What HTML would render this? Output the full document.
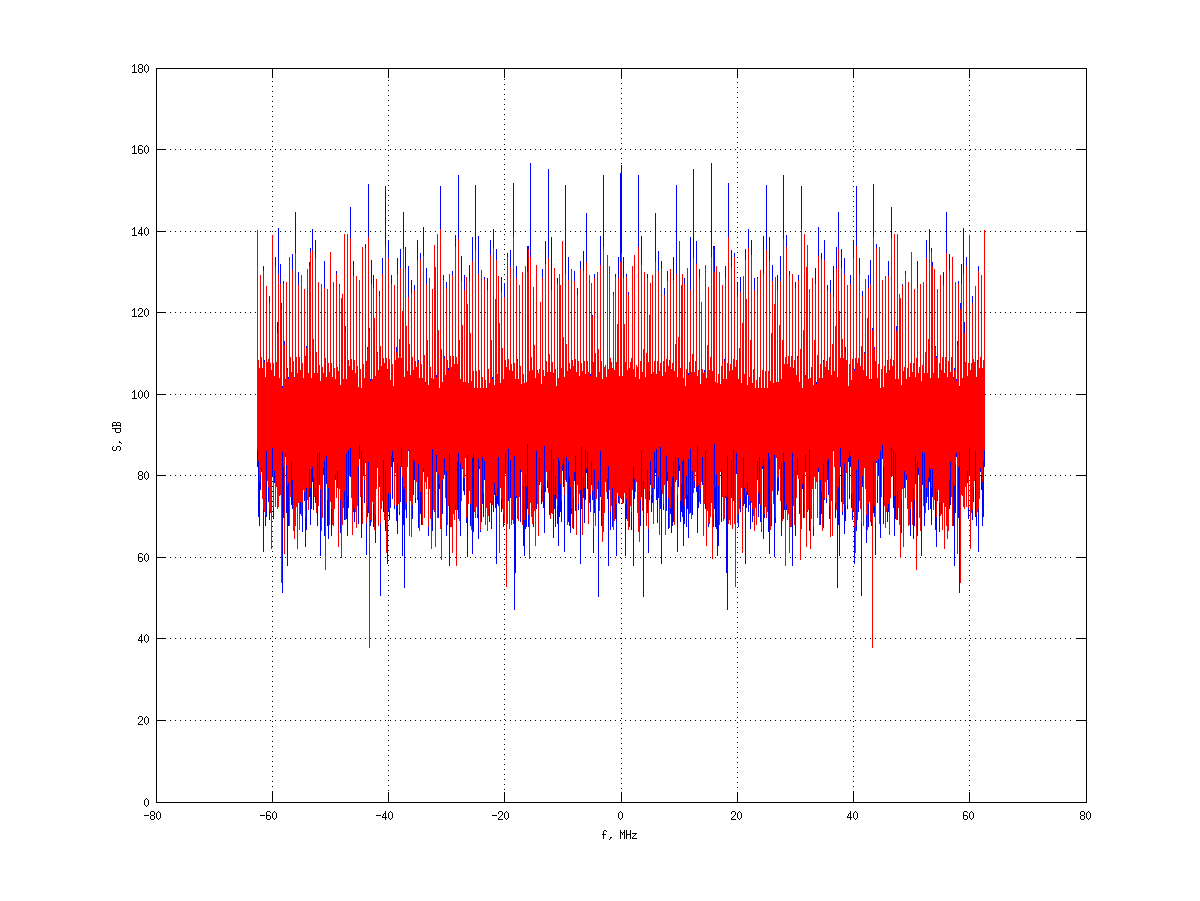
<!DOCTYPE html><html><head><meta charset="utf-8"><style>html,body{margin:0;padding:0;background:#fff;width:1200px;height:901px;overflow:hidden}</style></head><body><svg width="1200" height="901" viewBox="0 0 1200 901" shape-rendering="crispEdges" style="display:block"><rect width="1200" height="901" fill="#fff"/><path fill="#000" d="M170 720h1v1h-1zM175 720h1v1h-1zM180 720h1v1h-1zM185 720h1v1h-1zM190 720h1v1h-1zM195 720h1v1h-1zM200 720h1v1h-1zM205 720h1v1h-1zM210 720h1v1h-1zM215 720h1v1h-1zM220 720h1v1h-1zM225 720h1v1h-1zM230 720h1v1h-1zM235 720h1v1h-1zM240 720h1v1h-1zM245 720h1v1h-1zM250 720h1v1h-1zM255 720h1v1h-1zM260 720h1v1h-1zM265 720h1v1h-1zM270 720h1v1h-1zM275 720h1v1h-1zM280 720h1v1h-1zM285 720h1v1h-1zM290 720h1v1h-1zM295 720h1v1h-1zM300 720h1v1h-1zM305 720h1v1h-1zM310 720h1v1h-1zM315 720h1v1h-1zM320 720h1v1h-1zM325 720h1v1h-1zM330 720h1v1h-1zM335 720h1v1h-1zM340 720h1v1h-1zM345 720h1v1h-1zM350 720h1v1h-1zM355 720h1v1h-1zM360 720h1v1h-1zM365 720h1v1h-1zM370 720h1v1h-1zM375 720h1v1h-1zM380 720h1v1h-1zM385 720h1v1h-1zM390 720h1v1h-1zM395 720h1v1h-1zM400 720h1v1h-1zM405 720h1v1h-1zM410 720h1v1h-1zM415 720h1v1h-1zM420 720h1v1h-1zM425 720h1v1h-1zM430 720h1v1h-1zM435 720h1v1h-1zM440 720h1v1h-1zM445 720h1v1h-1zM450 720h1v1h-1zM455 720h1v1h-1zM460 720h1v1h-1zM465 720h1v1h-1zM470 720h1v1h-1zM475 720h1v1h-1zM480 720h1v1h-1zM485 720h1v1h-1zM490 720h1v1h-1zM495 720h1v1h-1zM500 720h1v1h-1zM505 720h1v1h-1zM510 720h1v1h-1zM515 720h1v1h-1zM520 720h1v1h-1zM525 720h1v1h-1zM530 720h1v1h-1zM535 720h1v1h-1zM540 720h1v1h-1zM545 720h1v1h-1zM550 720h1v1h-1zM555 720h1v1h-1zM560 720h1v1h-1zM565 720h1v1h-1zM570 720h1v1h-1zM575 720h1v1h-1zM580 720h1v1h-1zM585 720h1v1h-1zM590 720h1v1h-1zM595 720h1v1h-1zM600 720h1v1h-1zM605 720h1v1h-1zM610 720h1v1h-1zM615 720h1v1h-1zM620 720h1v1h-1zM625 720h1v1h-1zM630 720h1v1h-1zM635 720h1v1h-1zM640 720h1v1h-1zM645 720h1v1h-1zM650 720h1v1h-1zM655 720h1v1h-1zM660 720h1v1h-1zM665 720h1v1h-1zM670 720h1v1h-1zM675 720h1v1h-1zM680 720h1v1h-1zM685 720h1v1h-1zM690 720h1v1h-1zM695 720h1v1h-1zM700 720h1v1h-1zM705 720h1v1h-1zM710 720h1v1h-1zM715 720h1v1h-1zM720 720h1v1h-1zM725 720h1v1h-1zM730 720h1v1h-1zM735 720h1v1h-1zM740 720h1v1h-1zM745 720h1v1h-1zM750 720h1v1h-1zM755 720h1v1h-1zM760 720h1v1h-1zM765 720h1v1h-1zM770 720h1v1h-1zM775 720h1v1h-1zM780 720h1v1h-1zM785 720h1v1h-1zM790 720h1v1h-1zM795 720h1v1h-1zM800 720h1v1h-1zM805 720h1v1h-1zM810 720h1v1h-1zM815 720h1v1h-1zM820 720h1v1h-1zM825 720h1v1h-1zM830 720h1v1h-1zM835 720h1v1h-1zM840 720h1v1h-1zM845 720h1v1h-1zM850 720h1v1h-1zM855 720h1v1h-1zM860 720h1v1h-1zM865 720h1v1h-1zM870 720h1v1h-1zM875 720h1v1h-1zM880 720h1v1h-1zM885 720h1v1h-1zM890 720h1v1h-1zM895 720h1v1h-1zM900 720h1v1h-1zM905 720h1v1h-1zM910 720h1v1h-1zM915 720h1v1h-1zM920 720h1v1h-1zM925 720h1v1h-1zM930 720h1v1h-1zM935 720h1v1h-1zM940 720h1v1h-1zM945 720h1v1h-1zM950 720h1v1h-1zM955 720h1v1h-1zM960 720h1v1h-1zM965 720h1v1h-1zM970 720h1v1h-1zM975 720h1v1h-1zM980 720h1v1h-1zM985 720h1v1h-1zM990 720h1v1h-1zM995 720h1v1h-1zM1000 720h1v1h-1zM1005 720h1v1h-1zM1010 720h1v1h-1zM1015 720h1v1h-1zM1020 720h1v1h-1zM1025 720h1v1h-1zM1030 720h1v1h-1zM1035 720h1v1h-1zM1040 720h1v1h-1zM1045 720h1v1h-1zM1050 720h1v1h-1zM1055 720h1v1h-1zM1060 720h1v1h-1zM1065 720h1v1h-1zM1070 720h1v1h-1zM170 638h1v1h-1zM175 638h1v1h-1zM180 638h1v1h-1zM185 638h1v1h-1zM190 638h1v1h-1zM195 638h1v1h-1zM200 638h1v1h-1zM205 638h1v1h-1zM210 638h1v1h-1zM215 638h1v1h-1zM220 638h1v1h-1zM225 638h1v1h-1zM230 638h1v1h-1zM235 638h1v1h-1zM240 638h1v1h-1zM245 638h1v1h-1zM250 638h1v1h-1zM255 638h1v1h-1zM260 638h1v1h-1zM265 638h1v1h-1zM270 638h1v1h-1zM275 638h1v1h-1zM280 638h1v1h-1zM285 638h1v1h-1zM290 638h1v1h-1zM295 638h1v1h-1zM300 638h1v1h-1zM305 638h1v1h-1zM310 638h1v1h-1zM315 638h1v1h-1zM320 638h1v1h-1zM325 638h1v1h-1zM330 638h1v1h-1zM335 638h1v1h-1zM340 638h1v1h-1zM345 638h1v1h-1zM350 638h1v1h-1zM355 638h1v1h-1zM360 638h1v1h-1zM365 638h1v1h-1zM370 638h1v1h-1zM375 638h1v1h-1zM380 638h1v1h-1zM385 638h1v1h-1zM390 638h1v1h-1zM395 638h1v1h-1zM400 638h1v1h-1zM405 638h1v1h-1zM410 638h1v1h-1zM415 638h1v1h-1zM420 638h1v1h-1zM425 638h1v1h-1zM430 638h1v1h-1zM435 638h1v1h-1zM440 638h1v1h-1zM445 638h1v1h-1zM450 638h1v1h-1zM455 638h1v1h-1zM460 638h1v1h-1zM465 638h1v1h-1zM470 638h1v1h-1zM475 638h1v1h-1zM480 638h1v1h-1zM485 638h1v1h-1zM490 638h1v1h-1zM495 638h1v1h-1zM500 638h1v1h-1zM505 638h1v1h-1zM510 638h1v1h-1zM515 638h1v1h-1zM520 638h1v1h-1zM525 638h1v1h-1zM530 638h1v1h-1zM535 638h1v1h-1zM540 638h1v1h-1zM545 638h1v1h-1zM550 638h1v1h-1zM555 638h1v1h-1zM560 638h1v1h-1zM565 638h1v1h-1zM570 638h1v1h-1zM575 638h1v1h-1zM580 638h1v1h-1zM585 638h1v1h-1zM590 638h1v1h-1zM595 638h1v1h-1zM600 638h1v1h-1zM605 638h1v1h-1zM610 638h1v1h-1zM615 638h1v1h-1zM620 638h1v1h-1zM625 638h1v1h-1zM630 638h1v1h-1zM635 638h1v1h-1zM640 638h1v1h-1zM645 638h1v1h-1zM650 638h1v1h-1zM655 638h1v1h-1zM660 638h1v1h-1zM665 638h1v1h-1zM670 638h1v1h-1zM675 638h1v1h-1zM680 638h1v1h-1zM685 638h1v1h-1zM690 638h1v1h-1zM695 638h1v1h-1zM700 638h1v1h-1zM705 638h1v1h-1zM710 638h1v1h-1zM715 638h1v1h-1zM720 638h1v1h-1zM725 638h1v1h-1zM730 638h1v1h-1zM735 638h1v1h-1zM740 638h1v1h-1zM745 638h1v1h-1zM750 638h1v1h-1zM755 638h1v1h-1zM760 638h1v1h-1zM765 638h1v1h-1zM770 638h1v1h-1zM775 638h1v1h-1zM780 638h1v1h-1zM785 638h1v1h-1zM790 638h1v1h-1zM795 638h1v1h-1zM800 638h1v1h-1zM805 638h1v1h-1zM810 638h1v1h-1zM815 638h1v1h-1zM820 638h1v1h-1zM825 638h1v1h-1zM830 638h1v1h-1zM835 638h1v1h-1zM840 638h1v1h-1zM845 638h1v1h-1zM850 638h1v1h-1zM855 638h1v1h-1zM860 638h1v1h-1zM865 638h1v1h-1zM870 638h1v1h-1zM875 638h1v1h-1zM880 638h1v1h-1zM885 638h1v1h-1zM890 638h1v1h-1zM895 638h1v1h-1zM900 638h1v1h-1zM905 638h1v1h-1zM910 638h1v1h-1zM915 638h1v1h-1zM920 638h1v1h-1zM925 638h1v1h-1zM930 638h1v1h-1zM935 638h1v1h-1zM940 638h1v1h-1zM945 638h1v1h-1zM950 638h1v1h-1zM955 638h1v1h-1zM960 638h1v1h-1zM965 638h1v1h-1zM970 638h1v1h-1zM975 638h1v1h-1zM980 638h1v1h-1zM985 638h1v1h-1zM990 638h1v1h-1zM995 638h1v1h-1zM1000 638h1v1h-1zM1005 638h1v1h-1zM1010 638h1v1h-1zM1015 638h1v1h-1zM1020 638h1v1h-1zM1025 638h1v1h-1zM1030 638h1v1h-1zM1035 638h1v1h-1zM1040 638h1v1h-1zM1045 638h1v1h-1zM1050 638h1v1h-1zM1055 638h1v1h-1zM1060 638h1v1h-1zM1065 638h1v1h-1zM1070 638h1v1h-1zM170 557h1v1h-1zM175 557h1v1h-1zM180 557h1v1h-1zM185 557h1v1h-1zM190 557h1v1h-1zM195 557h1v1h-1zM200 557h1v1h-1zM205 557h1v1h-1zM210 557h1v1h-1zM215 557h1v1h-1zM220 557h1v1h-1zM225 557h1v1h-1zM230 557h1v1h-1zM235 557h1v1h-1zM240 557h1v1h-1zM245 557h1v1h-1zM250 557h1v1h-1zM255 557h1v1h-1zM260 557h1v1h-1zM265 557h1v1h-1zM270 557h1v1h-1zM275 557h1v1h-1zM280 557h1v1h-1zM285 557h1v1h-1zM290 557h1v1h-1zM295 557h1v1h-1zM300 557h1v1h-1zM305 557h1v1h-1zM310 557h1v1h-1zM315 557h1v1h-1zM320 557h1v1h-1zM325 557h1v1h-1zM330 557h1v1h-1zM335 557h1v1h-1zM340 557h1v1h-1zM345 557h1v1h-1zM350 557h1v1h-1zM355 557h1v1h-1zM360 557h1v1h-1zM365 557h1v1h-1zM370 557h1v1h-1zM375 557h1v1h-1zM380 557h1v1h-1zM385 557h1v1h-1zM390 557h1v1h-1zM395 557h1v1h-1zM400 557h1v1h-1zM405 557h1v1h-1zM410 557h1v1h-1zM415 557h1v1h-1zM420 557h1v1h-1zM425 557h1v1h-1zM430 557h1v1h-1zM435 557h1v1h-1zM440 557h1v1h-1zM445 557h1v1h-1zM450 557h1v1h-1zM455 557h1v1h-1zM460 557h1v1h-1zM465 557h1v1h-1zM470 557h1v1h-1zM475 557h1v1h-1zM480 557h1v1h-1zM485 557h1v1h-1zM490 557h1v1h-1zM495 557h1v1h-1zM500 557h1v1h-1zM505 557h1v1h-1zM510 557h1v1h-1zM515 557h1v1h-1zM520 557h1v1h-1zM525 557h1v1h-1zM530 557h1v1h-1zM535 557h1v1h-1zM540 557h1v1h-1zM545 557h1v1h-1zM550 557h1v1h-1zM555 557h1v1h-1zM560 557h1v1h-1zM565 557h1v1h-1zM570 557h1v1h-1zM575 557h1v1h-1zM580 557h1v1h-1zM585 557h1v1h-1zM590 557h1v1h-1zM595 557h1v1h-1zM600 557h1v1h-1zM605 557h1v1h-1zM610 557h1v1h-1zM615 557h1v1h-1zM620 557h1v1h-1zM625 557h1v1h-1zM630 557h1v1h-1zM635 557h1v1h-1zM640 557h1v1h-1zM645 557h1v1h-1zM650 557h1v1h-1zM655 557h1v1h-1zM660 557h1v1h-1zM665 557h1v1h-1zM670 557h1v1h-1zM675 557h1v1h-1zM680 557h1v1h-1zM685 557h1v1h-1zM690 557h1v1h-1zM695 557h1v1h-1zM700 557h1v1h-1zM705 557h1v1h-1zM710 557h1v1h-1zM715 557h1v1h-1zM720 557h1v1h-1zM725 557h1v1h-1zM730 557h1v1h-1zM735 557h1v1h-1zM740 557h1v1h-1zM745 557h1v1h-1zM750 557h1v1h-1zM755 557h1v1h-1zM760 557h1v1h-1zM765 557h1v1h-1zM770 557h1v1h-1zM775 557h1v1h-1zM780 557h1v1h-1zM785 557h1v1h-1zM790 557h1v1h-1zM795 557h1v1h-1zM800 557h1v1h-1zM805 557h1v1h-1zM810 557h1v1h-1zM815 557h1v1h-1zM820 557h1v1h-1zM825 557h1v1h-1zM830 557h1v1h-1zM835 557h1v1h-1zM840 557h1v1h-1zM845 557h1v1h-1zM850 557h1v1h-1zM855 557h1v1h-1zM860 557h1v1h-1zM865 557h1v1h-1zM870 557h1v1h-1zM875 557h1v1h-1zM880 557h1v1h-1zM885 557h1v1h-1zM890 557h1v1h-1zM895 557h1v1h-1zM900 557h1v1h-1zM905 557h1v1h-1zM910 557h1v1h-1zM915 557h1v1h-1zM920 557h1v1h-1zM925 557h1v1h-1zM930 557h1v1h-1zM935 557h1v1h-1zM940 557h1v1h-1zM945 557h1v1h-1zM950 557h1v1h-1zM955 557h1v1h-1zM960 557h1v1h-1zM965 557h1v1h-1zM970 557h1v1h-1zM975 557h1v1h-1zM980 557h1v1h-1zM985 557h1v1h-1zM990 557h1v1h-1zM995 557h1v1h-1zM1000 557h1v1h-1zM1005 557h1v1h-1zM1010 557h1v1h-1zM1015 557h1v1h-1zM1020 557h1v1h-1zM1025 557h1v1h-1zM1030 557h1v1h-1zM1035 557h1v1h-1zM1040 557h1v1h-1zM1045 557h1v1h-1zM1050 557h1v1h-1zM1055 557h1v1h-1zM1060 557h1v1h-1zM1065 557h1v1h-1zM1070 557h1v1h-1zM170 475h1v1h-1zM175 475h1v1h-1zM180 475h1v1h-1zM185 475h1v1h-1zM190 475h1v1h-1zM195 475h1v1h-1zM200 475h1v1h-1zM205 475h1v1h-1zM210 475h1v1h-1zM215 475h1v1h-1zM220 475h1v1h-1zM225 475h1v1h-1zM230 475h1v1h-1zM235 475h1v1h-1zM240 475h1v1h-1zM245 475h1v1h-1zM250 475h1v1h-1zM255 475h1v1h-1zM260 475h1v1h-1zM265 475h1v1h-1zM270 475h1v1h-1zM275 475h1v1h-1zM280 475h1v1h-1zM285 475h1v1h-1zM290 475h1v1h-1zM295 475h1v1h-1zM300 475h1v1h-1zM305 475h1v1h-1zM310 475h1v1h-1zM315 475h1v1h-1zM320 475h1v1h-1zM325 475h1v1h-1zM330 475h1v1h-1zM335 475h1v1h-1zM340 475h1v1h-1zM345 475h1v1h-1zM350 475h1v1h-1zM355 475h1v1h-1zM360 475h1v1h-1zM365 475h1v1h-1zM370 475h1v1h-1zM375 475h1v1h-1zM380 475h1v1h-1zM385 475h1v1h-1zM390 475h1v1h-1zM395 475h1v1h-1zM400 475h1v1h-1zM405 475h1v1h-1zM410 475h1v1h-1zM415 475h1v1h-1zM420 475h1v1h-1zM425 475h1v1h-1zM430 475h1v1h-1zM435 475h1v1h-1zM440 475h1v1h-1zM445 475h1v1h-1zM450 475h1v1h-1zM455 475h1v1h-1zM460 475h1v1h-1zM465 475h1v1h-1zM470 475h1v1h-1zM475 475h1v1h-1zM480 475h1v1h-1zM485 475h1v1h-1zM490 475h1v1h-1zM495 475h1v1h-1zM500 475h1v1h-1zM505 475h1v1h-1zM510 475h1v1h-1zM515 475h1v1h-1zM520 475h1v1h-1zM525 475h1v1h-1zM530 475h1v1h-1zM535 475h1v1h-1zM540 475h1v1h-1zM545 475h1v1h-1zM550 475h1v1h-1zM555 475h1v1h-1zM560 475h1v1h-1zM565 475h1v1h-1zM570 475h1v1h-1zM575 475h1v1h-1zM580 475h1v1h-1zM585 475h1v1h-1zM590 475h1v1h-1zM595 475h1v1h-1zM600 475h1v1h-1zM605 475h1v1h-1zM610 475h1v1h-1zM615 475h1v1h-1zM620 475h1v1h-1zM625 475h1v1h-1zM630 475h1v1h-1zM635 475h1v1h-1zM640 475h1v1h-1zM645 475h1v1h-1zM650 475h1v1h-1zM655 475h1v1h-1zM660 475h1v1h-1zM665 475h1v1h-1zM670 475h1v1h-1zM675 475h1v1h-1zM680 475h1v1h-1zM685 475h1v1h-1zM690 475h1v1h-1zM695 475h1v1h-1zM700 475h1v1h-1zM705 475h1v1h-1zM710 475h1v1h-1zM715 475h1v1h-1zM720 475h1v1h-1zM725 475h1v1h-1zM730 475h1v1h-1zM735 475h1v1h-1zM740 475h1v1h-1zM745 475h1v1h-1zM750 475h1v1h-1zM755 475h1v1h-1zM760 475h1v1h-1zM765 475h1v1h-1zM770 475h1v1h-1zM775 475h1v1h-1zM780 475h1v1h-1zM785 475h1v1h-1zM790 475h1v1h-1zM795 475h1v1h-1zM800 475h1v1h-1zM805 475h1v1h-1zM810 475h1v1h-1zM815 475h1v1h-1zM820 475h1v1h-1zM825 475h1v1h-1zM830 475h1v1h-1zM835 475h1v1h-1zM840 475h1v1h-1zM845 475h1v1h-1zM850 475h1v1h-1zM855 475h1v1h-1zM860 475h1v1h-1zM865 475h1v1h-1zM870 475h1v1h-1zM875 475h1v1h-1zM880 475h1v1h-1zM885 475h1v1h-1zM890 475h1v1h-1zM895 475h1v1h-1zM900 475h1v1h-1zM905 475h1v1h-1zM910 475h1v1h-1zM915 475h1v1h-1zM920 475h1v1h-1zM925 475h1v1h-1zM930 475h1v1h-1zM935 475h1v1h-1zM940 475h1v1h-1zM945 475h1v1h-1zM950 475h1v1h-1zM955 475h1v1h-1zM960 475h1v1h-1zM965 475h1v1h-1zM970 475h1v1h-1zM975 475h1v1h-1zM980 475h1v1h-1zM985 475h1v1h-1zM990 475h1v1h-1zM995 475h1v1h-1zM1000 475h1v1h-1zM1005 475h1v1h-1zM1010 475h1v1h-1zM1015 475h1v1h-1zM1020 475h1v1h-1zM1025 475h1v1h-1zM1030 475h1v1h-1zM1035 475h1v1h-1zM1040 475h1v1h-1zM1045 475h1v1h-1zM1050 475h1v1h-1zM1055 475h1v1h-1zM1060 475h1v1h-1zM1065 475h1v1h-1zM1070 475h1v1h-1zM170 394h1v1h-1zM175 394h1v1h-1zM180 394h1v1h-1zM185 394h1v1h-1zM190 394h1v1h-1zM195 394h1v1h-1zM200 394h1v1h-1zM205 394h1v1h-1zM210 394h1v1h-1zM215 394h1v1h-1zM220 394h1v1h-1zM225 394h1v1h-1zM230 394h1v1h-1zM235 394h1v1h-1zM240 394h1v1h-1zM245 394h1v1h-1zM250 394h1v1h-1zM255 394h1v1h-1zM260 394h1v1h-1zM265 394h1v1h-1zM270 394h1v1h-1zM275 394h1v1h-1zM280 394h1v1h-1zM285 394h1v1h-1zM290 394h1v1h-1zM295 394h1v1h-1zM300 394h1v1h-1zM305 394h1v1h-1zM310 394h1v1h-1zM315 394h1v1h-1zM320 394h1v1h-1zM325 394h1v1h-1zM330 394h1v1h-1zM335 394h1v1h-1zM340 394h1v1h-1zM345 394h1v1h-1zM350 394h1v1h-1zM355 394h1v1h-1zM360 394h1v1h-1zM365 394h1v1h-1zM370 394h1v1h-1zM375 394h1v1h-1zM380 394h1v1h-1zM385 394h1v1h-1zM390 394h1v1h-1zM395 394h1v1h-1zM400 394h1v1h-1zM405 394h1v1h-1zM410 394h1v1h-1zM415 394h1v1h-1zM420 394h1v1h-1zM425 394h1v1h-1zM430 394h1v1h-1zM435 394h1v1h-1zM440 394h1v1h-1zM445 394h1v1h-1zM450 394h1v1h-1zM455 394h1v1h-1zM460 394h1v1h-1zM465 394h1v1h-1zM470 394h1v1h-1zM475 394h1v1h-1zM480 394h1v1h-1zM485 394h1v1h-1zM490 394h1v1h-1zM495 394h1v1h-1zM500 394h1v1h-1zM505 394h1v1h-1zM510 394h1v1h-1zM515 394h1v1h-1zM520 394h1v1h-1zM525 394h1v1h-1zM530 394h1v1h-1zM535 394h1v1h-1zM540 394h1v1h-1zM545 394h1v1h-1zM550 394h1v1h-1zM555 394h1v1h-1zM560 394h1v1h-1zM565 394h1v1h-1zM570 394h1v1h-1zM575 394h1v1h-1zM580 394h1v1h-1zM585 394h1v1h-1zM590 394h1v1h-1zM595 394h1v1h-1zM600 394h1v1h-1zM605 394h1v1h-1zM610 394h1v1h-1zM615 394h1v1h-1zM620 394h1v1h-1zM625 394h1v1h-1zM630 394h1v1h-1zM635 394h1v1h-1zM640 394h1v1h-1zM645 394h1v1h-1zM650 394h1v1h-1zM655 394h1v1h-1zM660 394h1v1h-1zM665 394h1v1h-1zM670 394h1v1h-1zM675 394h1v1h-1zM680 394h1v1h-1zM685 394h1v1h-1zM690 394h1v1h-1zM695 394h1v1h-1zM700 394h1v1h-1zM705 394h1v1h-1zM710 394h1v1h-1zM715 394h1v1h-1zM720 394h1v1h-1zM725 394h1v1h-1zM730 394h1v1h-1zM735 394h1v1h-1zM740 394h1v1h-1zM745 394h1v1h-1zM750 394h1v1h-1zM755 394h1v1h-1zM760 394h1v1h-1zM765 394h1v1h-1zM770 394h1v1h-1zM775 394h1v1h-1zM780 394h1v1h-1zM785 394h1v1h-1zM790 394h1v1h-1zM795 394h1v1h-1zM800 394h1v1h-1zM805 394h1v1h-1zM810 394h1v1h-1zM815 394h1v1h-1zM820 394h1v1h-1zM825 394h1v1h-1zM830 394h1v1h-1zM835 394h1v1h-1zM840 394h1v1h-1zM845 394h1v1h-1zM850 394h1v1h-1zM855 394h1v1h-1zM860 394h1v1h-1zM865 394h1v1h-1zM870 394h1v1h-1zM875 394h1v1h-1zM880 394h1v1h-1zM885 394h1v1h-1zM890 394h1v1h-1zM895 394h1v1h-1zM900 394h1v1h-1zM905 394h1v1h-1zM910 394h1v1h-1zM915 394h1v1h-1zM920 394h1v1h-1zM925 394h1v1h-1zM930 394h1v1h-1zM935 394h1v1h-1zM940 394h1v1h-1zM945 394h1v1h-1zM950 394h1v1h-1zM955 394h1v1h-1zM960 394h1v1h-1zM965 394h1v1h-1zM970 394h1v1h-1zM975 394h1v1h-1zM980 394h1v1h-1zM985 394h1v1h-1zM990 394h1v1h-1zM995 394h1v1h-1zM1000 394h1v1h-1zM1005 394h1v1h-1zM1010 394h1v1h-1zM1015 394h1v1h-1zM1020 394h1v1h-1zM1025 394h1v1h-1zM1030 394h1v1h-1zM1035 394h1v1h-1zM1040 394h1v1h-1zM1045 394h1v1h-1zM1050 394h1v1h-1zM1055 394h1v1h-1zM1060 394h1v1h-1zM1065 394h1v1h-1zM1070 394h1v1h-1zM170 312h1v1h-1zM175 312h1v1h-1zM180 312h1v1h-1zM185 312h1v1h-1zM190 312h1v1h-1zM195 312h1v1h-1zM200 312h1v1h-1zM205 312h1v1h-1zM210 312h1v1h-1zM215 312h1v1h-1zM220 312h1v1h-1zM225 312h1v1h-1zM230 312h1v1h-1zM235 312h1v1h-1zM240 312h1v1h-1zM245 312h1v1h-1zM250 312h1v1h-1zM255 312h1v1h-1zM260 312h1v1h-1zM265 312h1v1h-1zM270 312h1v1h-1zM275 312h1v1h-1zM280 312h1v1h-1zM285 312h1v1h-1zM290 312h1v1h-1zM295 312h1v1h-1zM300 312h1v1h-1zM305 312h1v1h-1zM310 312h1v1h-1zM315 312h1v1h-1zM320 312h1v1h-1zM325 312h1v1h-1zM330 312h1v1h-1zM335 312h1v1h-1zM340 312h1v1h-1zM345 312h1v1h-1zM350 312h1v1h-1zM355 312h1v1h-1zM360 312h1v1h-1zM365 312h1v1h-1zM370 312h1v1h-1zM375 312h1v1h-1zM380 312h1v1h-1zM385 312h1v1h-1zM390 312h1v1h-1zM395 312h1v1h-1zM400 312h1v1h-1zM405 312h1v1h-1zM410 312h1v1h-1zM415 312h1v1h-1zM420 312h1v1h-1zM425 312h1v1h-1zM430 312h1v1h-1zM435 312h1v1h-1zM440 312h1v1h-1zM445 312h1v1h-1zM450 312h1v1h-1zM455 312h1v1h-1zM460 312h1v1h-1zM465 312h1v1h-1zM470 312h1v1h-1zM475 312h1v1h-1zM480 312h1v1h-1zM485 312h1v1h-1zM490 312h1v1h-1zM495 312h1v1h-1zM500 312h1v1h-1zM505 312h1v1h-1zM510 312h1v1h-1zM515 312h1v1h-1zM520 312h1v1h-1zM525 312h1v1h-1zM530 312h1v1h-1zM535 312h1v1h-1zM540 312h1v1h-1zM545 312h1v1h-1zM550 312h1v1h-1zM555 312h1v1h-1zM560 312h1v1h-1zM565 312h1v1h-1zM570 312h1v1h-1zM575 312h1v1h-1zM580 312h1v1h-1zM585 312h1v1h-1zM590 312h1v1h-1zM595 312h1v1h-1zM600 312h1v1h-1zM605 312h1v1h-1zM610 312h1v1h-1zM615 312h1v1h-1zM620 312h1v1h-1zM625 312h1v1h-1zM630 312h1v1h-1zM635 312h1v1h-1zM640 312h1v1h-1zM645 312h1v1h-1zM650 312h1v1h-1zM655 312h1v1h-1zM660 312h1v1h-1zM665 312h1v1h-1zM670 312h1v1h-1zM675 312h1v1h-1zM680 312h1v1h-1zM685 312h1v1h-1zM690 312h1v1h-1zM695 312h1v1h-1zM700 312h1v1h-1zM705 312h1v1h-1zM710 312h1v1h-1zM715 312h1v1h-1zM720 312h1v1h-1zM725 312h1v1h-1zM730 312h1v1h-1zM735 312h1v1h-1zM740 312h1v1h-1zM745 312h1v1h-1zM750 312h1v1h-1zM755 312h1v1h-1zM760 312h1v1h-1zM765 312h1v1h-1zM770 312h1v1h-1zM775 312h1v1h-1zM780 312h1v1h-1zM785 312h1v1h-1zM790 312h1v1h-1zM795 312h1v1h-1zM800 312h1v1h-1zM805 312h1v1h-1zM810 312h1v1h-1zM815 312h1v1h-1zM820 312h1v1h-1zM825 312h1v1h-1zM830 312h1v1h-1zM835 312h1v1h-1zM840 312h1v1h-1zM845 312h1v1h-1zM850 312h1v1h-1zM855 312h1v1h-1zM860 312h1v1h-1zM865 312h1v1h-1zM870 312h1v1h-1zM875 312h1v1h-1zM880 312h1v1h-1zM885 312h1v1h-1zM890 312h1v1h-1zM895 312h1v1h-1zM900 312h1v1h-1zM905 312h1v1h-1zM910 312h1v1h-1zM915 312h1v1h-1zM920 312h1v1h-1zM925 312h1v1h-1zM930 312h1v1h-1zM935 312h1v1h-1zM940 312h1v1h-1zM945 312h1v1h-1zM950 312h1v1h-1zM955 312h1v1h-1zM960 312h1v1h-1zM965 312h1v1h-1zM970 312h1v1h-1zM975 312h1v1h-1zM980 312h1v1h-1zM985 312h1v1h-1zM990 312h1v1h-1zM995 312h1v1h-1zM1000 312h1v1h-1zM1005 312h1v1h-1zM1010 312h1v1h-1zM1015 312h1v1h-1zM1020 312h1v1h-1zM1025 312h1v1h-1zM1030 312h1v1h-1zM1035 312h1v1h-1zM1040 312h1v1h-1zM1045 312h1v1h-1zM1050 312h1v1h-1zM1055 312h1v1h-1zM1060 312h1v1h-1zM1065 312h1v1h-1zM1070 312h1v1h-1zM170 231h1v1h-1zM175 231h1v1h-1zM180 231h1v1h-1zM185 231h1v1h-1zM190 231h1v1h-1zM195 231h1v1h-1zM200 231h1v1h-1zM205 231h1v1h-1zM210 231h1v1h-1zM215 231h1v1h-1zM220 231h1v1h-1zM225 231h1v1h-1zM230 231h1v1h-1zM235 231h1v1h-1zM240 231h1v1h-1zM245 231h1v1h-1zM250 231h1v1h-1zM255 231h1v1h-1zM260 231h1v1h-1zM265 231h1v1h-1zM270 231h1v1h-1zM275 231h1v1h-1zM280 231h1v1h-1zM285 231h1v1h-1zM290 231h1v1h-1zM295 231h1v1h-1zM300 231h1v1h-1zM305 231h1v1h-1zM310 231h1v1h-1zM315 231h1v1h-1zM320 231h1v1h-1zM325 231h1v1h-1zM330 231h1v1h-1zM335 231h1v1h-1zM340 231h1v1h-1zM345 231h1v1h-1zM350 231h1v1h-1zM355 231h1v1h-1zM360 231h1v1h-1zM365 231h1v1h-1zM370 231h1v1h-1zM375 231h1v1h-1zM380 231h1v1h-1zM385 231h1v1h-1zM390 231h1v1h-1zM395 231h1v1h-1zM400 231h1v1h-1zM405 231h1v1h-1zM410 231h1v1h-1zM415 231h1v1h-1zM420 231h1v1h-1zM425 231h1v1h-1zM430 231h1v1h-1zM435 231h1v1h-1zM440 231h1v1h-1zM445 231h1v1h-1zM450 231h1v1h-1zM455 231h1v1h-1zM460 231h1v1h-1zM465 231h1v1h-1zM470 231h1v1h-1zM475 231h1v1h-1zM480 231h1v1h-1zM485 231h1v1h-1zM490 231h1v1h-1zM495 231h1v1h-1zM500 231h1v1h-1zM505 231h1v1h-1zM510 231h1v1h-1zM515 231h1v1h-1zM520 231h1v1h-1zM525 231h1v1h-1zM530 231h1v1h-1zM535 231h1v1h-1zM540 231h1v1h-1zM545 231h1v1h-1zM550 231h1v1h-1zM555 231h1v1h-1zM560 231h1v1h-1zM565 231h1v1h-1zM570 231h1v1h-1zM575 231h1v1h-1zM580 231h1v1h-1zM585 231h1v1h-1zM590 231h1v1h-1zM595 231h1v1h-1zM600 231h1v1h-1zM605 231h1v1h-1zM610 231h1v1h-1zM615 231h1v1h-1zM620 231h1v1h-1zM625 231h1v1h-1zM630 231h1v1h-1zM635 231h1v1h-1zM640 231h1v1h-1zM645 231h1v1h-1zM650 231h1v1h-1zM655 231h1v1h-1zM660 231h1v1h-1zM665 231h1v1h-1zM670 231h1v1h-1zM675 231h1v1h-1zM680 231h1v1h-1zM685 231h1v1h-1zM690 231h1v1h-1zM695 231h1v1h-1zM700 231h1v1h-1zM705 231h1v1h-1zM710 231h1v1h-1zM715 231h1v1h-1zM720 231h1v1h-1zM725 231h1v1h-1zM730 231h1v1h-1zM735 231h1v1h-1zM740 231h1v1h-1zM745 231h1v1h-1zM750 231h1v1h-1zM755 231h1v1h-1zM760 231h1v1h-1zM765 231h1v1h-1zM770 231h1v1h-1zM775 231h1v1h-1zM780 231h1v1h-1zM785 231h1v1h-1zM790 231h1v1h-1zM795 231h1v1h-1zM800 231h1v1h-1zM805 231h1v1h-1zM810 231h1v1h-1zM815 231h1v1h-1zM820 231h1v1h-1zM825 231h1v1h-1zM830 231h1v1h-1zM835 231h1v1h-1zM840 231h1v1h-1zM845 231h1v1h-1zM850 231h1v1h-1zM855 231h1v1h-1zM860 231h1v1h-1zM865 231h1v1h-1zM870 231h1v1h-1zM875 231h1v1h-1zM880 231h1v1h-1zM885 231h1v1h-1zM890 231h1v1h-1zM895 231h1v1h-1zM900 231h1v1h-1zM905 231h1v1h-1zM910 231h1v1h-1zM915 231h1v1h-1zM920 231h1v1h-1zM925 231h1v1h-1zM930 231h1v1h-1zM935 231h1v1h-1zM940 231h1v1h-1zM945 231h1v1h-1zM950 231h1v1h-1zM955 231h1v1h-1zM960 231h1v1h-1zM965 231h1v1h-1zM970 231h1v1h-1zM975 231h1v1h-1zM980 231h1v1h-1zM985 231h1v1h-1zM990 231h1v1h-1zM995 231h1v1h-1zM1000 231h1v1h-1zM1005 231h1v1h-1zM1010 231h1v1h-1zM1015 231h1v1h-1zM1020 231h1v1h-1zM1025 231h1v1h-1zM1030 231h1v1h-1zM1035 231h1v1h-1zM1040 231h1v1h-1zM1045 231h1v1h-1zM1050 231h1v1h-1zM1055 231h1v1h-1zM1060 231h1v1h-1zM1065 231h1v1h-1zM1070 231h1v1h-1zM170 149h1v1h-1zM175 149h1v1h-1zM180 149h1v1h-1zM185 149h1v1h-1zM190 149h1v1h-1zM195 149h1v1h-1zM200 149h1v1h-1zM205 149h1v1h-1zM210 149h1v1h-1zM215 149h1v1h-1zM220 149h1v1h-1zM225 149h1v1h-1zM230 149h1v1h-1zM235 149h1v1h-1zM240 149h1v1h-1zM245 149h1v1h-1zM250 149h1v1h-1zM255 149h1v1h-1zM260 149h1v1h-1zM265 149h1v1h-1zM270 149h1v1h-1zM275 149h1v1h-1zM280 149h1v1h-1zM285 149h1v1h-1zM290 149h1v1h-1zM295 149h1v1h-1zM300 149h1v1h-1zM305 149h1v1h-1zM310 149h1v1h-1zM315 149h1v1h-1zM320 149h1v1h-1zM325 149h1v1h-1zM330 149h1v1h-1zM335 149h1v1h-1zM340 149h1v1h-1zM345 149h1v1h-1zM350 149h1v1h-1zM355 149h1v1h-1zM360 149h1v1h-1zM365 149h1v1h-1zM370 149h1v1h-1zM375 149h1v1h-1zM380 149h1v1h-1zM385 149h1v1h-1zM390 149h1v1h-1zM395 149h1v1h-1zM400 149h1v1h-1zM405 149h1v1h-1zM410 149h1v1h-1zM415 149h1v1h-1zM420 149h1v1h-1zM425 149h1v1h-1zM430 149h1v1h-1zM435 149h1v1h-1zM440 149h1v1h-1zM445 149h1v1h-1zM450 149h1v1h-1zM455 149h1v1h-1zM460 149h1v1h-1zM465 149h1v1h-1zM470 149h1v1h-1zM475 149h1v1h-1zM480 149h1v1h-1zM485 149h1v1h-1zM490 149h1v1h-1zM495 149h1v1h-1zM500 149h1v1h-1zM505 149h1v1h-1zM510 149h1v1h-1zM515 149h1v1h-1zM520 149h1v1h-1zM525 149h1v1h-1zM530 149h1v1h-1zM535 149h1v1h-1zM540 149h1v1h-1zM545 149h1v1h-1zM550 149h1v1h-1zM555 149h1v1h-1zM560 149h1v1h-1zM565 149h1v1h-1zM570 149h1v1h-1zM575 149h1v1h-1zM580 149h1v1h-1zM585 149h1v1h-1zM590 149h1v1h-1zM595 149h1v1h-1zM600 149h1v1h-1zM605 149h1v1h-1zM610 149h1v1h-1zM615 149h1v1h-1zM620 149h1v1h-1zM625 149h1v1h-1zM630 149h1v1h-1zM635 149h1v1h-1zM640 149h1v1h-1zM645 149h1v1h-1zM650 149h1v1h-1zM655 149h1v1h-1zM660 149h1v1h-1zM665 149h1v1h-1zM670 149h1v1h-1zM675 149h1v1h-1zM680 149h1v1h-1zM685 149h1v1h-1zM690 149h1v1h-1zM695 149h1v1h-1zM700 149h1v1h-1zM705 149h1v1h-1zM710 149h1v1h-1zM715 149h1v1h-1zM720 149h1v1h-1zM725 149h1v1h-1zM730 149h1v1h-1zM735 149h1v1h-1zM740 149h1v1h-1zM745 149h1v1h-1zM750 149h1v1h-1zM755 149h1v1h-1zM760 149h1v1h-1zM765 149h1v1h-1zM770 149h1v1h-1zM775 149h1v1h-1zM780 149h1v1h-1zM785 149h1v1h-1zM790 149h1v1h-1zM795 149h1v1h-1zM800 149h1v1h-1zM805 149h1v1h-1zM810 149h1v1h-1zM815 149h1v1h-1zM820 149h1v1h-1zM825 149h1v1h-1zM830 149h1v1h-1zM835 149h1v1h-1zM840 149h1v1h-1zM845 149h1v1h-1zM850 149h1v1h-1zM855 149h1v1h-1zM860 149h1v1h-1zM865 149h1v1h-1zM870 149h1v1h-1zM875 149h1v1h-1zM880 149h1v1h-1zM885 149h1v1h-1zM890 149h1v1h-1zM895 149h1v1h-1zM900 149h1v1h-1zM905 149h1v1h-1zM910 149h1v1h-1zM915 149h1v1h-1zM920 149h1v1h-1zM925 149h1v1h-1zM930 149h1v1h-1zM935 149h1v1h-1zM940 149h1v1h-1zM945 149h1v1h-1zM950 149h1v1h-1zM955 149h1v1h-1zM960 149h1v1h-1zM965 149h1v1h-1zM970 149h1v1h-1zM975 149h1v1h-1zM980 149h1v1h-1zM985 149h1v1h-1zM990 149h1v1h-1zM995 149h1v1h-1zM1000 149h1v1h-1zM1005 149h1v1h-1zM1010 149h1v1h-1zM1015 149h1v1h-1zM1020 149h1v1h-1zM1025 149h1v1h-1zM1030 149h1v1h-1zM1035 149h1v1h-1zM1040 149h1v1h-1zM1045 149h1v1h-1zM1050 149h1v1h-1zM1055 149h1v1h-1zM1060 149h1v1h-1zM1065 149h1v1h-1zM1070 149h1v1h-1zM272 81h1v1h-1zM272 86h1v1h-1zM272 91h1v1h-1zM272 96h1v1h-1zM272 101h1v1h-1zM272 106h1v1h-1zM272 111h1v1h-1zM272 116h1v1h-1zM272 121h1v1h-1zM272 126h1v1h-1zM272 131h1v1h-1zM272 136h1v1h-1zM272 141h1v1h-1zM272 146h1v1h-1zM272 151h1v1h-1zM272 156h1v1h-1zM272 161h1v1h-1zM272 166h1v1h-1zM272 171h1v1h-1zM272 176h1v1h-1zM272 181h1v1h-1zM272 186h1v1h-1zM272 191h1v1h-1zM272 196h1v1h-1zM272 201h1v1h-1zM272 206h1v1h-1zM272 211h1v1h-1zM272 216h1v1h-1zM272 221h1v1h-1zM272 226h1v1h-1zM272 231h1v1h-1zM272 236h1v1h-1zM272 241h1v1h-1zM272 246h1v1h-1zM272 251h1v1h-1zM272 256h1v1h-1zM272 261h1v1h-1zM272 266h1v1h-1zM272 271h1v1h-1zM272 276h1v1h-1zM272 281h1v1h-1zM272 286h1v1h-1zM272 291h1v1h-1zM272 296h1v1h-1zM272 301h1v1h-1zM272 306h1v1h-1zM272 311h1v1h-1zM272 316h1v1h-1zM272 321h1v1h-1zM272 326h1v1h-1zM272 331h1v1h-1zM272 336h1v1h-1zM272 341h1v1h-1zM272 346h1v1h-1zM272 351h1v1h-1zM272 356h1v1h-1zM272 361h1v1h-1zM272 366h1v1h-1zM272 371h1v1h-1zM272 376h1v1h-1zM272 381h1v1h-1zM272 386h1v1h-1zM272 391h1v1h-1zM272 396h1v1h-1zM272 401h1v1h-1zM272 406h1v1h-1zM272 411h1v1h-1zM272 416h1v1h-1zM272 421h1v1h-1zM272 426h1v1h-1zM272 431h1v1h-1zM272 436h1v1h-1zM272 441h1v1h-1zM272 446h1v1h-1zM272 451h1v1h-1zM272 456h1v1h-1zM272 461h1v1h-1zM272 466h1v1h-1zM272 471h1v1h-1zM272 476h1v1h-1zM272 481h1v1h-1zM272 486h1v1h-1zM272 491h1v1h-1zM272 496h1v1h-1zM272 501h1v1h-1zM272 506h1v1h-1zM272 511h1v1h-1zM272 516h1v1h-1zM272 521h1v1h-1zM272 526h1v1h-1zM272 531h1v1h-1zM272 536h1v1h-1zM272 541h1v1h-1zM272 546h1v1h-1zM272 551h1v1h-1zM272 556h1v1h-1zM272 561h1v1h-1zM272 566h1v1h-1zM272 571h1v1h-1zM272 576h1v1h-1zM272 581h1v1h-1zM272 586h1v1h-1zM272 591h1v1h-1zM272 596h1v1h-1zM272 601h1v1h-1zM272 606h1v1h-1zM272 611h1v1h-1zM272 616h1v1h-1zM272 621h1v1h-1zM272 626h1v1h-1zM272 631h1v1h-1zM272 636h1v1h-1zM272 641h1v1h-1zM272 646h1v1h-1zM272 651h1v1h-1zM272 656h1v1h-1zM272 661h1v1h-1zM272 666h1v1h-1zM272 671h1v1h-1zM272 676h1v1h-1zM272 681h1v1h-1zM272 686h1v1h-1zM272 691h1v1h-1zM272 696h1v1h-1zM272 701h1v1h-1zM272 706h1v1h-1zM272 711h1v1h-1zM272 716h1v1h-1zM272 721h1v1h-1zM272 726h1v1h-1zM272 731h1v1h-1zM272 736h1v1h-1zM272 741h1v1h-1zM272 746h1v1h-1zM272 751h1v1h-1zM272 756h1v1h-1zM272 761h1v1h-1zM272 766h1v1h-1zM272 771h1v1h-1zM272 776h1v1h-1zM272 781h1v1h-1zM272 786h1v1h-1zM272 791h1v1h-1zM388 80h1v1h-1zM388 85h1v1h-1zM388 90h1v1h-1zM388 95h1v1h-1zM388 100h1v1h-1zM388 105h1v1h-1zM388 110h1v1h-1zM388 115h1v1h-1zM388 120h1v1h-1zM388 125h1v1h-1zM388 130h1v1h-1zM388 135h1v1h-1zM388 140h1v1h-1zM388 145h1v1h-1zM388 150h1v1h-1zM388 155h1v1h-1zM388 160h1v1h-1zM388 165h1v1h-1zM388 170h1v1h-1zM388 175h1v1h-1zM388 180h1v1h-1zM388 185h1v1h-1zM388 190h1v1h-1zM388 195h1v1h-1zM388 200h1v1h-1zM388 205h1v1h-1zM388 210h1v1h-1zM388 215h1v1h-1zM388 220h1v1h-1zM388 225h1v1h-1zM388 230h1v1h-1zM388 235h1v1h-1zM388 240h1v1h-1zM388 245h1v1h-1zM388 250h1v1h-1zM388 255h1v1h-1zM388 260h1v1h-1zM388 265h1v1h-1zM388 270h1v1h-1zM388 275h1v1h-1zM388 280h1v1h-1zM388 285h1v1h-1zM388 290h1v1h-1zM388 295h1v1h-1zM388 300h1v1h-1zM388 305h1v1h-1zM388 310h1v1h-1zM388 315h1v1h-1zM388 320h1v1h-1zM388 325h1v1h-1zM388 330h1v1h-1zM388 335h1v1h-1zM388 340h1v1h-1zM388 345h1v1h-1zM388 350h1v1h-1zM388 355h1v1h-1zM388 360h1v1h-1zM388 365h1v1h-1zM388 370h1v1h-1zM388 375h1v1h-1zM388 380h1v1h-1zM388 385h1v1h-1zM388 390h1v1h-1zM388 395h1v1h-1zM388 400h1v1h-1zM388 405h1v1h-1zM388 410h1v1h-1zM388 415h1v1h-1zM388 420h1v1h-1zM388 425h1v1h-1zM388 430h1v1h-1zM388 435h1v1h-1zM388 440h1v1h-1zM388 445h1v1h-1zM388 450h1v1h-1zM388 455h1v1h-1zM388 460h1v1h-1zM388 465h1v1h-1zM388 470h1v1h-1zM388 475h1v1h-1zM388 480h1v1h-1zM388 485h1v1h-1zM388 490h1v1h-1zM388 495h1v1h-1zM388 500h1v1h-1zM388 505h1v1h-1zM388 510h1v1h-1zM388 515h1v1h-1zM388 520h1v1h-1zM388 525h1v1h-1zM388 530h1v1h-1zM388 535h1v1h-1zM388 540h1v1h-1zM388 545h1v1h-1zM388 550h1v1h-1zM388 555h1v1h-1zM388 560h1v1h-1zM388 565h1v1h-1zM388 570h1v1h-1zM388 575h1v1h-1zM388 580h1v1h-1zM388 585h1v1h-1zM388 590h1v1h-1zM388 595h1v1h-1zM388 600h1v1h-1zM388 605h1v1h-1zM388 610h1v1h-1zM388 615h1v1h-1zM388 620h1v1h-1zM388 625h1v1h-1zM388 630h1v1h-1zM388 635h1v1h-1zM388 640h1v1h-1zM388 645h1v1h-1zM388 650h1v1h-1zM388 655h1v1h-1zM388 660h1v1h-1zM388 665h1v1h-1zM388 670h1v1h-1zM388 675h1v1h-1zM388 680h1v1h-1zM388 685h1v1h-1zM388 690h1v1h-1zM388 695h1v1h-1zM388 700h1v1h-1zM388 705h1v1h-1zM388 710h1v1h-1zM388 715h1v1h-1zM388 720h1v1h-1zM388 725h1v1h-1zM388 730h1v1h-1zM388 735h1v1h-1zM388 740h1v1h-1zM388 745h1v1h-1zM388 750h1v1h-1zM388 755h1v1h-1zM388 760h1v1h-1zM388 765h1v1h-1zM388 770h1v1h-1zM388 775h1v1h-1zM388 780h1v1h-1zM388 785h1v1h-1zM388 790h1v1h-1zM504 79h1v1h-1zM504 84h1v1h-1zM504 89h1v1h-1zM504 94h1v1h-1zM504 99h1v1h-1zM504 104h1v1h-1zM504 109h1v1h-1zM504 114h1v1h-1zM504 119h1v1h-1zM504 124h1v1h-1zM504 129h1v1h-1zM504 134h1v1h-1zM504 139h1v1h-1zM504 144h1v1h-1zM504 149h1v1h-1zM504 154h1v1h-1zM504 159h1v1h-1zM504 164h1v1h-1zM504 169h1v1h-1zM504 174h1v1h-1zM504 179h1v1h-1zM504 184h1v1h-1zM504 189h1v1h-1zM504 194h1v1h-1zM504 199h1v1h-1zM504 204h1v1h-1zM504 209h1v1h-1zM504 214h1v1h-1zM504 219h1v1h-1zM504 224h1v1h-1zM504 229h1v1h-1zM504 234h1v1h-1zM504 239h1v1h-1zM504 244h1v1h-1zM504 249h1v1h-1zM504 254h1v1h-1zM504 259h1v1h-1zM504 264h1v1h-1zM504 269h1v1h-1zM504 274h1v1h-1zM504 279h1v1h-1zM504 284h1v1h-1zM504 289h1v1h-1zM504 294h1v1h-1zM504 299h1v1h-1zM504 304h1v1h-1zM504 309h1v1h-1zM504 314h1v1h-1zM504 319h1v1h-1zM504 324h1v1h-1zM504 329h1v1h-1zM504 334h1v1h-1zM504 339h1v1h-1zM504 344h1v1h-1zM504 349h1v1h-1zM504 354h1v1h-1zM504 359h1v1h-1zM504 364h1v1h-1zM504 369h1v1h-1zM504 374h1v1h-1zM504 379h1v1h-1zM504 384h1v1h-1zM504 389h1v1h-1zM504 394h1v1h-1zM504 399h1v1h-1zM504 404h1v1h-1zM504 409h1v1h-1zM504 414h1v1h-1zM504 419h1v1h-1zM504 424h1v1h-1zM504 429h1v1h-1zM504 434h1v1h-1zM504 439h1v1h-1zM504 444h1v1h-1zM504 449h1v1h-1zM504 454h1v1h-1zM504 459h1v1h-1zM504 464h1v1h-1zM504 469h1v1h-1zM504 474h1v1h-1zM504 479h1v1h-1zM504 484h1v1h-1zM504 489h1v1h-1zM504 494h1v1h-1zM504 499h1v1h-1zM504 504h1v1h-1zM504 509h1v1h-1zM504 514h1v1h-1zM504 519h1v1h-1zM504 524h1v1h-1zM504 529h1v1h-1zM504 534h1v1h-1zM504 539h1v1h-1zM504 544h1v1h-1zM504 549h1v1h-1zM504 554h1v1h-1zM504 559h1v1h-1zM504 564h1v1h-1zM504 569h1v1h-1zM504 574h1v1h-1zM504 579h1v1h-1zM504 584h1v1h-1zM504 589h1v1h-1zM504 594h1v1h-1zM504 599h1v1h-1zM504 604h1v1h-1zM504 609h1v1h-1zM504 614h1v1h-1zM504 619h1v1h-1zM504 624h1v1h-1zM504 629h1v1h-1zM504 634h1v1h-1zM504 639h1v1h-1zM504 644h1v1h-1zM504 649h1v1h-1zM504 654h1v1h-1zM504 659h1v1h-1zM504 664h1v1h-1zM504 669h1v1h-1zM504 674h1v1h-1zM504 679h1v1h-1zM504 684h1v1h-1zM504 689h1v1h-1zM504 694h1v1h-1zM504 699h1v1h-1zM504 704h1v1h-1zM504 709h1v1h-1zM504 714h1v1h-1zM504 719h1v1h-1zM504 724h1v1h-1zM504 729h1v1h-1zM504 734h1v1h-1zM504 739h1v1h-1zM504 744h1v1h-1zM504 749h1v1h-1zM504 754h1v1h-1zM504 759h1v1h-1zM504 764h1v1h-1zM504 769h1v1h-1zM504 774h1v1h-1zM504 779h1v1h-1zM504 784h1v1h-1zM504 789h1v1h-1zM621 78h1v1h-1zM621 83h1v1h-1zM621 88h1v1h-1zM621 93h1v1h-1zM621 98h1v1h-1zM621 103h1v1h-1zM621 108h1v1h-1zM621 113h1v1h-1zM621 118h1v1h-1zM621 123h1v1h-1zM621 128h1v1h-1zM621 133h1v1h-1zM621 138h1v1h-1zM621 143h1v1h-1zM621 148h1v1h-1zM621 153h1v1h-1zM621 158h1v1h-1zM621 163h1v1h-1zM621 168h1v1h-1zM621 173h1v1h-1zM621 178h1v1h-1zM621 183h1v1h-1zM621 188h1v1h-1zM621 193h1v1h-1zM621 198h1v1h-1zM621 203h1v1h-1zM621 208h1v1h-1zM621 213h1v1h-1zM621 218h1v1h-1zM621 223h1v1h-1zM621 228h1v1h-1zM621 233h1v1h-1zM621 238h1v1h-1zM621 243h1v1h-1zM621 248h1v1h-1zM621 253h1v1h-1zM621 258h1v1h-1zM621 263h1v1h-1zM621 268h1v1h-1zM621 273h1v1h-1zM621 278h1v1h-1zM621 283h1v1h-1zM621 288h1v1h-1zM621 293h1v1h-1zM621 298h1v1h-1zM621 303h1v1h-1zM621 308h1v1h-1zM621 313h1v1h-1zM621 318h1v1h-1zM621 323h1v1h-1zM621 328h1v1h-1zM621 333h1v1h-1zM621 338h1v1h-1zM621 343h1v1h-1zM621 348h1v1h-1zM621 353h1v1h-1zM621 358h1v1h-1zM621 363h1v1h-1zM621 368h1v1h-1zM621 373h1v1h-1zM621 378h1v1h-1zM621 383h1v1h-1zM621 388h1v1h-1zM621 393h1v1h-1zM621 398h1v1h-1zM621 403h1v1h-1zM621 408h1v1h-1zM621 413h1v1h-1zM621 418h1v1h-1zM621 423h1v1h-1zM621 428h1v1h-1zM621 433h1v1h-1zM621 438h1v1h-1zM621 443h1v1h-1zM621 448h1v1h-1zM621 453h1v1h-1zM621 458h1v1h-1zM621 463h1v1h-1zM621 468h1v1h-1zM621 473h1v1h-1zM621 478h1v1h-1zM621 483h1v1h-1zM621 488h1v1h-1zM621 493h1v1h-1zM621 498h1v1h-1zM621 503h1v1h-1zM621 508h1v1h-1zM621 513h1v1h-1zM621 518h1v1h-1zM621 523h1v1h-1zM621 528h1v1h-1zM621 533h1v1h-1zM621 538h1v1h-1zM621 543h1v1h-1zM621 548h1v1h-1zM621 553h1v1h-1zM621 558h1v1h-1zM621 563h1v1h-1zM621 568h1v1h-1zM621 573h1v1h-1zM621 578h1v1h-1zM621 583h1v1h-1zM621 588h1v1h-1zM621 593h1v1h-1zM621 598h1v1h-1zM621 603h1v1h-1zM621 608h1v1h-1zM621 613h1v1h-1zM621 618h1v1h-1zM621 623h1v1h-1zM621 628h1v1h-1zM621 633h1v1h-1zM621 638h1v1h-1zM621 643h1v1h-1zM621 648h1v1h-1zM621 653h1v1h-1zM621 658h1v1h-1zM621 663h1v1h-1zM621 668h1v1h-1zM621 673h1v1h-1zM621 678h1v1h-1zM621 683h1v1h-1zM621 688h1v1h-1zM621 693h1v1h-1zM621 698h1v1h-1zM621 703h1v1h-1zM621 708h1v1h-1zM621 713h1v1h-1zM621 718h1v1h-1zM621 723h1v1h-1zM621 728h1v1h-1zM621 733h1v1h-1zM621 738h1v1h-1zM621 743h1v1h-1zM621 748h1v1h-1zM621 753h1v1h-1zM621 758h1v1h-1zM621 763h1v1h-1zM621 768h1v1h-1zM621 773h1v1h-1zM621 778h1v1h-1zM621 783h1v1h-1zM621 788h1v1h-1zM737 82h1v1h-1zM737 87h1v1h-1zM737 92h1v1h-1zM737 97h1v1h-1zM737 102h1v1h-1zM737 107h1v1h-1zM737 112h1v1h-1zM737 117h1v1h-1zM737 122h1v1h-1zM737 127h1v1h-1zM737 132h1v1h-1zM737 137h1v1h-1zM737 142h1v1h-1zM737 147h1v1h-1zM737 152h1v1h-1zM737 157h1v1h-1zM737 162h1v1h-1zM737 167h1v1h-1zM737 172h1v1h-1zM737 177h1v1h-1zM737 182h1v1h-1zM737 187h1v1h-1zM737 192h1v1h-1zM737 197h1v1h-1zM737 202h1v1h-1zM737 207h1v1h-1zM737 212h1v1h-1zM737 217h1v1h-1zM737 222h1v1h-1zM737 227h1v1h-1zM737 232h1v1h-1zM737 237h1v1h-1zM737 242h1v1h-1zM737 247h1v1h-1zM737 252h1v1h-1zM737 257h1v1h-1zM737 262h1v1h-1zM737 267h1v1h-1zM737 272h1v1h-1zM737 277h1v1h-1zM737 282h1v1h-1zM737 287h1v1h-1zM737 292h1v1h-1zM737 297h1v1h-1zM737 302h1v1h-1zM737 307h1v1h-1zM737 312h1v1h-1zM737 317h1v1h-1zM737 322h1v1h-1zM737 327h1v1h-1zM737 332h1v1h-1zM737 337h1v1h-1zM737 342h1v1h-1zM737 347h1v1h-1zM737 352h1v1h-1zM737 357h1v1h-1zM737 362h1v1h-1zM737 367h1v1h-1zM737 372h1v1h-1zM737 377h1v1h-1zM737 382h1v1h-1zM737 387h1v1h-1zM737 392h1v1h-1zM737 397h1v1h-1zM737 402h1v1h-1zM737 407h1v1h-1zM737 412h1v1h-1zM737 417h1v1h-1zM737 422h1v1h-1zM737 427h1v1h-1zM737 432h1v1h-1zM737 437h1v1h-1zM737 442h1v1h-1zM737 447h1v1h-1zM737 452h1v1h-1zM737 457h1v1h-1zM737 462h1v1h-1zM737 467h1v1h-1zM737 472h1v1h-1zM737 477h1v1h-1zM737 482h1v1h-1zM737 487h1v1h-1zM737 492h1v1h-1zM737 497h1v1h-1zM737 502h1v1h-1zM737 507h1v1h-1zM737 512h1v1h-1zM737 517h1v1h-1zM737 522h1v1h-1zM737 527h1v1h-1zM737 532h1v1h-1zM737 537h1v1h-1zM737 542h1v1h-1zM737 547h1v1h-1zM737 552h1v1h-1zM737 557h1v1h-1zM737 562h1v1h-1zM737 567h1v1h-1zM737 572h1v1h-1zM737 577h1v1h-1zM737 582h1v1h-1zM737 587h1v1h-1zM737 592h1v1h-1zM737 597h1v1h-1zM737 602h1v1h-1zM737 607h1v1h-1zM737 612h1v1h-1zM737 617h1v1h-1zM737 622h1v1h-1zM737 627h1v1h-1zM737 632h1v1h-1zM737 637h1v1h-1zM737 642h1v1h-1zM737 647h1v1h-1zM737 652h1v1h-1zM737 657h1v1h-1zM737 662h1v1h-1zM737 667h1v1h-1zM737 672h1v1h-1zM737 677h1v1h-1zM737 682h1v1h-1zM737 687h1v1h-1zM737 692h1v1h-1zM737 697h1v1h-1zM737 702h1v1h-1zM737 707h1v1h-1zM737 712h1v1h-1zM737 717h1v1h-1zM737 722h1v1h-1zM737 727h1v1h-1zM737 732h1v1h-1zM737 737h1v1h-1zM737 742h1v1h-1zM737 747h1v1h-1zM737 752h1v1h-1zM737 757h1v1h-1zM737 762h1v1h-1zM737 767h1v1h-1zM737 772h1v1h-1zM737 777h1v1h-1zM737 782h1v1h-1zM737 787h1v1h-1zM853 81h1v1h-1zM853 86h1v1h-1zM853 91h1v1h-1zM853 96h1v1h-1zM853 101h1v1h-1zM853 106h1v1h-1zM853 111h1v1h-1zM853 116h1v1h-1zM853 121h1v1h-1zM853 126h1v1h-1zM853 131h1v1h-1zM853 136h1v1h-1zM853 141h1v1h-1zM853 146h1v1h-1zM853 151h1v1h-1zM853 156h1v1h-1zM853 161h1v1h-1zM853 166h1v1h-1zM853 171h1v1h-1zM853 176h1v1h-1zM853 181h1v1h-1zM853 186h1v1h-1zM853 191h1v1h-1zM853 196h1v1h-1zM853 201h1v1h-1zM853 206h1v1h-1zM853 211h1v1h-1zM853 216h1v1h-1zM853 221h1v1h-1zM853 226h1v1h-1zM853 231h1v1h-1zM853 236h1v1h-1zM853 241h1v1h-1zM853 246h1v1h-1zM853 251h1v1h-1zM853 256h1v1h-1zM853 261h1v1h-1zM853 266h1v1h-1zM853 271h1v1h-1zM853 276h1v1h-1zM853 281h1v1h-1zM853 286h1v1h-1zM853 291h1v1h-1zM853 296h1v1h-1zM853 301h1v1h-1zM853 306h1v1h-1zM853 311h1v1h-1zM853 316h1v1h-1zM853 321h1v1h-1zM853 326h1v1h-1zM853 331h1v1h-1zM853 336h1v1h-1zM853 341h1v1h-1zM853 346h1v1h-1zM853 351h1v1h-1zM853 356h1v1h-1zM853 361h1v1h-1zM853 366h1v1h-1zM853 371h1v1h-1zM853 376h1v1h-1zM853 381h1v1h-1zM853 386h1v1h-1zM853 391h1v1h-1zM853 396h1v1h-1zM853 401h1v1h-1zM853 406h1v1h-1zM853 411h1v1h-1zM853 416h1v1h-1zM853 421h1v1h-1zM853 426h1v1h-1zM853 431h1v1h-1zM853 436h1v1h-1zM853 441h1v1h-1zM853 446h1v1h-1zM853 451h1v1h-1zM853 456h1v1h-1zM853 461h1v1h-1zM853 466h1v1h-1zM853 471h1v1h-1zM853 476h1v1h-1zM853 481h1v1h-1zM853 486h1v1h-1zM853 491h1v1h-1zM853 496h1v1h-1zM853 501h1v1h-1zM853 506h1v1h-1zM853 511h1v1h-1zM853 516h1v1h-1zM853 521h1v1h-1zM853 526h1v1h-1zM853 531h1v1h-1zM853 536h1v1h-1zM853 541h1v1h-1zM853 546h1v1h-1zM853 551h1v1h-1zM853 556h1v1h-1zM853 561h1v1h-1zM853 566h1v1h-1zM853 571h1v1h-1zM853 576h1v1h-1zM853 581h1v1h-1zM853 586h1v1h-1zM853 591h1v1h-1zM853 596h1v1h-1zM853 601h1v1h-1zM853 606h1v1h-1zM853 611h1v1h-1zM853 616h1v1h-1zM853 621h1v1h-1zM853 626h1v1h-1zM853 631h1v1h-1zM853 636h1v1h-1zM853 641h1v1h-1zM853 646h1v1h-1zM853 651h1v1h-1zM853 656h1v1h-1zM853 661h1v1h-1zM853 666h1v1h-1zM853 671h1v1h-1zM853 676h1v1h-1zM853 681h1v1h-1zM853 686h1v1h-1zM853 691h1v1h-1zM853 696h1v1h-1zM853 701h1v1h-1zM853 706h1v1h-1zM853 711h1v1h-1zM853 716h1v1h-1zM853 721h1v1h-1zM853 726h1v1h-1zM853 731h1v1h-1zM853 736h1v1h-1zM853 741h1v1h-1zM853 746h1v1h-1zM853 751h1v1h-1zM853 756h1v1h-1zM853 761h1v1h-1zM853 766h1v1h-1zM853 771h1v1h-1zM853 776h1v1h-1zM853 781h1v1h-1zM853 786h1v1h-1zM853 791h1v1h-1zM969 80h1v1h-1zM969 85h1v1h-1zM969 90h1v1h-1zM969 95h1v1h-1zM969 100h1v1h-1zM969 105h1v1h-1zM969 110h1v1h-1zM969 115h1v1h-1zM969 120h1v1h-1zM969 125h1v1h-1zM969 130h1v1h-1zM969 135h1v1h-1zM969 140h1v1h-1zM969 145h1v1h-1zM969 150h1v1h-1zM969 155h1v1h-1zM969 160h1v1h-1zM969 165h1v1h-1zM969 170h1v1h-1zM969 175h1v1h-1zM969 180h1v1h-1zM969 185h1v1h-1zM969 190h1v1h-1zM969 195h1v1h-1zM969 200h1v1h-1zM969 205h1v1h-1zM969 210h1v1h-1zM969 215h1v1h-1zM969 220h1v1h-1zM969 225h1v1h-1zM969 230h1v1h-1zM969 235h1v1h-1zM969 240h1v1h-1zM969 245h1v1h-1zM969 250h1v1h-1zM969 255h1v1h-1zM969 260h1v1h-1zM969 265h1v1h-1zM969 270h1v1h-1zM969 275h1v1h-1zM969 280h1v1h-1zM969 285h1v1h-1zM969 290h1v1h-1zM969 295h1v1h-1zM969 300h1v1h-1zM969 305h1v1h-1zM969 310h1v1h-1zM969 315h1v1h-1zM969 320h1v1h-1zM969 325h1v1h-1zM969 330h1v1h-1zM969 335h1v1h-1zM969 340h1v1h-1zM969 345h1v1h-1zM969 350h1v1h-1zM969 355h1v1h-1zM969 360h1v1h-1zM969 365h1v1h-1zM969 370h1v1h-1zM969 375h1v1h-1zM969 380h1v1h-1zM969 385h1v1h-1zM969 390h1v1h-1zM969 395h1v1h-1zM969 400h1v1h-1zM969 405h1v1h-1zM969 410h1v1h-1zM969 415h1v1h-1zM969 420h1v1h-1zM969 425h1v1h-1zM969 430h1v1h-1zM969 435h1v1h-1zM969 440h1v1h-1zM969 445h1v1h-1zM969 450h1v1h-1zM969 455h1v1h-1zM969 460h1v1h-1zM969 465h1v1h-1zM969 470h1v1h-1zM969 475h1v1h-1zM969 480h1v1h-1zM969 485h1v1h-1zM969 490h1v1h-1zM969 495h1v1h-1zM969 500h1v1h-1zM969 505h1v1h-1zM969 510h1v1h-1zM969 515h1v1h-1zM969 520h1v1h-1zM969 525h1v1h-1zM969 530h1v1h-1zM969 535h1v1h-1zM969 540h1v1h-1zM969 545h1v1h-1zM969 550h1v1h-1zM969 555h1v1h-1zM969 560h1v1h-1zM969 565h1v1h-1zM969 570h1v1h-1zM969 575h1v1h-1zM969 580h1v1h-1zM969 585h1v1h-1zM969 590h1v1h-1zM969 595h1v1h-1zM969 600h1v1h-1zM969 605h1v1h-1zM969 610h1v1h-1zM969 615h1v1h-1zM969 620h1v1h-1zM969 625h1v1h-1zM969 630h1v1h-1zM969 635h1v1h-1zM969 640h1v1h-1zM969 645h1v1h-1zM969 650h1v1h-1zM969 655h1v1h-1zM969 660h1v1h-1zM969 665h1v1h-1zM969 670h1v1h-1zM969 675h1v1h-1zM969 680h1v1h-1zM969 685h1v1h-1zM969 690h1v1h-1zM969 695h1v1h-1zM969 700h1v1h-1zM969 705h1v1h-1zM969 710h1v1h-1zM969 715h1v1h-1zM969 720h1v1h-1zM969 725h1v1h-1zM969 730h1v1h-1zM969 735h1v1h-1zM969 740h1v1h-1zM969 745h1v1h-1zM969 750h1v1h-1zM969 755h1v1h-1zM969 760h1v1h-1zM969 765h1v1h-1zM969 770h1v1h-1zM969 775h1v1h-1zM969 780h1v1h-1zM969 785h1v1h-1zM969 790h1v1h-1z"/><path fill="#0000ff" d="M257 231h1v236h-1zM258 361h1v156h-1zM259 369h1v157h-1zM260 276h1v214h-1zM261 358h1v114h-1zM262 369h1v78h-1zM263 266h1v286h-1zM264 360h1v133h-1zM265 378h1v148h-1zM266 287h1v230h-1zM267 363h1v84h-1zM268 360h1v142h-1zM269 296h1v224h-1zM270 364h1v103h-1zM271 371h1v97h-1zM272 236h1v240h-1zM273 364h1v155h-1zM274 377h1v106h-1zM275 257h1v211h-1zM276 363h1v107h-1zM277 322h1v183h-1zM278 228h1v229h-1zM279 379h1v117h-1zM280 264h1v225h-1zM281 303h1v138h-1zM282 386h1v207h-1zM283 281h1v237h-1zM284 341h1v128h-1zM285 379h1v78h-1zM286 283h1v230h-1zM287 368h1v198h-1zM288 377h1v149h-1zM289 258h1v249h-1zM290 358h1v127h-1zM291 373h1v132h-1zM292 254h1v255h-1zM293 362h1v148h-1zM294 378h1v130h-1zM295 212h1v307h-1zM296 358h1v135h-1zM297 374h1v158h-1zM298 272h1v186h-1zM299 358h1v132h-1zM300 371h1v143h-1zM301 276h1v204h-1zM302 364h1v168h-1zM303 379h1v105h-1zM304 290h1v211h-1zM305 356h1v191h-1zM306 346h1v184h-1zM307 270h1v197h-1zM308 374h1v136h-1zM309 262h1v235h-1zM310 248h1v277h-1zM311 379h1v130h-1zM312 229h1v253h-1zM313 340h1v170h-1zM314 374h1v74h-1zM315 240h1v263h-1zM316 353h1v156h-1zM317 374h1v152h-1zM318 283h1v201h-1zM319 366h1v119h-1zM320 382h1v174h-1zM321 285h1v200h-1zM322 368h1v97h-1zM323 374h1v101h-1zM324 261h1v275h-1zM325 359h1v110h-1zM326 378h1v106h-1zM327 290h1v236h-1zM328 364h1v175h-1zM329 373h1v111h-1zM330 253h1v196h-1zM331 364h1v172h-1zM332 378h1v112h-1zM333 283h1v167h-1zM334 369h1v108h-1zM335 380h1v100h-1zM336 271h1v203h-1zM337 368h1v120h-1zM338 372h1v147h-1zM339 284h1v193h-1zM340 386h1v147h-1zM341 299h1v198h-1zM342 295h1v218h-1zM343 380h1v90h-1zM344 235h1v285h-1zM345 326h1v178h-1zM346 380h1v139h-1zM347 235h1v301h-1zM348 361h1v147h-1zM349 367h1v86h-1zM350 207h1v270h-1zM351 360h1v94h-1zM352 371h1v113h-1zM353 261h1v251h-1zM354 361h1v161h-1zM355 374h1v105h-1zM356 277h1v201h-1zM357 367h1v86h-1zM358 388h1v136h-1zM359 281h1v178h-1zM360 370h1v111h-1zM361 389h1v149h-1zM362 248h1v268h-1zM363 365h1v111h-1zM364 379h1v124h-1zM365 244h1v219h-1zM366 362h1v193h-1zM367 347h1v170h-1zM368 184h1v329h-1zM369 328h1v150h-1zM370 379h1v147h-1zM371 260h1v244h-1zM372 380h1v121h-1zM373 275h1v252h-1zM374 319h1v175h-1zM375 377h1v166h-1zM376 280h1v191h-1zM377 352h1v106h-1zM378 371h1v91h-1zM379 291h1v196h-1zM380 347h1v249h-1zM381 367h1v114h-1zM382 258h1v237h-1zM383 359h1v153h-1zM384 364h1v111h-1zM385 186h1v345h-1zM386 359h1v114h-1zM387 369h1v195h-1zM388 240h1v272h-1zM389 360h1v160h-1zM390 381h1v127h-1zM391 275h1v192h-1zM392 365h1v134h-1zM393 387h1v75h-1zM394 286h1v223h-1zM395 361h1v106h-1zM396 347h1v174h-1zM397 258h1v276h-1zM398 359h1v145h-1zM399 340h1v175h-1zM400 249h1v253h-1zM401 359h1v108h-1zM402 312h1v244h-1zM403 212h1v313h-1zM404 378h1v210h-1zM405 247h1v215h-1zM406 327h1v191h-1zM407 372h1v75h-1zM408 266h1v185h-1zM409 345h1v96h-1zM410 376h1v81h-1zM411 280h1v243h-1zM412 358h1v161h-1zM413 371h1v124h-1zM414 285h1v195h-1zM415 362h1v141h-1zM416 368h1v80h-1zM417 240h1v260h-1zM418 360h1v168h-1zM419 379h1v87h-1zM420 253h1v261h-1zM421 365h1v160h-1zM422 379h1v67h-1zM423 227h1v245h-1zM424 356h1v121h-1zM425 382h1v64h-1zM426 268h1v191h-1zM427 341h1v131h-1zM428 386h1v150h-1zM429 279h1v200h-1zM430 368h1v128h-1zM431 379h1v114h-1zM432 290h1v241h-1zM433 380h1v124h-1zM434 246h1v266h-1zM435 268h1v250h-1zM436 375h1v97h-1zM437 235h1v265h-1zM438 331h1v187h-1zM439 389h1v100h-1zM440 186h1v334h-1zM441 350h1v168h-1zM442 383h1v131h-1zM443 275h1v192h-1zM444 356h1v119h-1zM445 376h1v72h-1zM446 282h1v254h-1zM447 361h1v127h-1zM448 368h1v100h-1zM449 275h1v291h-1zM450 357h1v105h-1zM451 368h1v109h-1zM452 271h1v198h-1zM453 357h1v151h-1zM454 365h1v122h-1zM455 235h1v275h-1zM456 358h1v151h-1zM457 365h1v145h-1zM458 175h1v344h-1zM459 341h1v168h-1zM460 380h1v156h-1zM461 256h1v232h-1zM462 326h1v143h-1zM463 383h1v108h-1zM464 275h1v220h-1zM465 383h1v70h-1zM466 278h1v245h-1zM467 305h1v252h-1zM468 384h1v113h-1zM469 265h1v184h-1zM470 334h1v192h-1zM471 382h1v139h-1zM472 237h1v317h-1zM473 372h1v160h-1zM474 389h1v123h-1zM475 185h1v293h-1zM476 372h1v88h-1zM477 389h1v129h-1zM478 236h1v303h-1zM479 371h1v98h-1zM480 389h1v143h-1zM481 271h1v251h-1zM482 378h1v126h-1zM483 389h1v128h-1zM484 277h1v203h-1zM485 381h1v127h-1zM486 389h1v117h-1zM487 278h1v172h-1zM488 370h1v130h-1zM489 384h1v138h-1zM490 240h1v227h-1zM491 341h1v188h-1zM492 377h1v67h-1zM493 229h1v283h-1zM494 386h1v109h-1zM495 300h1v208h-1zM496 249h1v315h-1zM497 375h1v129h-1zM498 277h1v229h-1zM499 324h1v175h-1zM500 384h1v87h-1zM501 277h1v235h-1zM502 349h1v151h-1zM503 380h1v147h-1zM504 283h1v229h-1zM505 361h1v113h-1zM506 368h1v164h-1zM507 253h1v261h-1zM508 360h1v141h-1zM509 371h1v103h-1zM510 250h1v248h-1zM511 365h1v119h-1zM512 372h1v114h-1zM513 183h1v295h-1zM514 364h1v246h-1zM515 380h1v193h-1zM516 266h1v232h-1zM517 359h1v115h-1zM518 380h1v136h-1zM519 286h1v158h-1zM520 367h1v155h-1zM521 385h1v84h-1zM522 273h1v243h-1zM523 375h1v171h-1zM524 384h1v172h-1zM525 267h1v262h-1zM526 383h1v144h-1zM527 246h1v263h-1zM528 246h1v281h-1zM529 372h1v152h-1zM530 163h1v328h-1zM531 358h1v145h-1zM532 371h1v119h-1zM533 288h1v239h-1zM534 346h1v140h-1zM535 379h1v135h-1zM536 266h1v243h-1zM537 370h1v98h-1zM538 374h1v131h-1zM539 370h1v115h-1zM540 303h1v174h-1zM541 385h1v119h-1zM542 269h1v180h-1zM543 371h1v137h-1zM544 377h1v156h-1zM545 241h1v251h-1zM546 362h1v83h-1zM547 373h1v115h-1zM548 169h1v294h-1zM549 355h1v160h-1zM550 373h1v146h-1zM551 237h1v276h-1zM552 363h1v116h-1zM553 373h1v165h-1zM554 269h1v240h-1zM555 370h1v157h-1zM556 387h1v81h-1zM557 278h1v246h-1zM558 379h1v167h-1zM559 275h1v242h-1zM560 286h1v226h-1zM561 369h1v153h-1zM562 242h1v229h-1zM563 338h1v149h-1zM564 378h1v174h-1zM565 185h1v257h-1zM566 345h1v137h-1zM567 372h1v149h-1zM568 257h1v265h-1zM569 364h1v162h-1zM570 370h1v163h-1zM571 270h1v244h-1zM572 361h1v106h-1zM573 367h1v162h-1zM574 271h1v210h-1zM575 360h1v151h-1zM576 373h1v101h-1zM577 288h1v183h-1zM578 362h1v148h-1zM579 377h1v89h-1zM580 261h1v303h-1zM581 364h1v145h-1zM582 372h1v137h-1zM583 251h1v247h-1zM584 362h1v161h-1zM585 375h1v125h-1zM586 213h1v260h-1zM587 362h1v127h-1zM588 373h1v123h-1zM589 276h1v227h-1zM590 374h1v138h-1zM591 284h1v201h-1zM592 315h1v185h-1zM593 363h1v190h-1zM594 274h1v239h-1zM595 354h1v163h-1zM596 378h1v96h-1zM597 273h1v183h-1zM598 350h1v247h-1zM599 373h1v108h-1zM600 236h1v261h-1zM601 362h1v164h-1zM602 380h1v138h-1zM603 175h1v310h-1zM604 368h1v88h-1zM605 366h1v114h-1zM606 378h1v105h-1zM607 256h1v243h-1zM608 370h1v196h-1zM609 267h1v220h-1zM610 359h1v171h-1zM611 363h1v125h-1zM612 369h1v158h-1zM613 292h1v231h-1zM614 371h1v119h-1zM615 274h1v245h-1zM616 363h1v193h-1zM617 325h1v132h-1zM618 257h1v246h-1zM619 377h1v105h-1zM620 173h1v325h-1zM621 165h1v333h-1zM622 377h1v105h-1zM623 257h1v246h-1zM624 325h1v132h-1zM625 363h1v193h-1zM626 274h1v245h-1zM627 371h1v119h-1zM628 292h1v231h-1zM629 369h1v158h-1zM630 363h1v125h-1zM631 359h1v171h-1zM632 267h1v220h-1zM633 370h1v196h-1zM634 256h1v243h-1zM635 378h1v105h-1zM636 366h1v114h-1zM637 368h1v88h-1zM638 175h1v310h-1zM639 380h1v138h-1zM640 362h1v164h-1zM641 236h1v261h-1zM642 373h1v108h-1zM643 350h1v247h-1zM644 273h1v183h-1zM645 378h1v96h-1zM646 354h1v163h-1zM647 274h1v239h-1zM648 363h1v190h-1zM649 315h1v185h-1zM650 284h1v201h-1zM651 374h1v138h-1zM652 276h1v227h-1zM653 373h1v123h-1zM654 362h1v127h-1zM655 213h1v260h-1zM656 375h1v125h-1zM657 362h1v161h-1zM658 251h1v247h-1zM659 372h1v137h-1zM660 364h1v145h-1zM661 261h1v303h-1zM662 377h1v89h-1zM663 362h1v148h-1zM664 288h1v183h-1zM665 373h1v101h-1zM666 360h1v151h-1zM667 271h1v210h-1zM668 367h1v162h-1zM669 361h1v106h-1zM670 270h1v244h-1zM671 370h1v163h-1zM672 364h1v162h-1zM673 257h1v265h-1zM674 372h1v149h-1zM675 345h1v137h-1zM676 185h1v257h-1zM677 378h1v174h-1zM678 338h1v149h-1zM679 242h1v229h-1zM680 369h1v153h-1zM681 286h1v226h-1zM682 275h1v242h-1zM683 379h1v167h-1zM684 278h1v246h-1zM685 387h1v81h-1zM686 370h1v157h-1zM687 269h1v240h-1zM688 373h1v165h-1zM689 363h1v116h-1zM690 237h1v276h-1zM691 373h1v146h-1zM692 355h1v160h-1zM693 169h1v294h-1zM694 373h1v115h-1zM695 362h1v83h-1zM696 241h1v251h-1zM697 377h1v156h-1zM698 371h1v137h-1zM699 269h1v180h-1zM700 385h1v119h-1zM701 303h1v174h-1zM702 370h1v115h-1zM703 374h1v131h-1zM704 370h1v98h-1zM705 266h1v243h-1zM706 379h1v135h-1zM707 346h1v140h-1zM708 288h1v239h-1zM709 371h1v119h-1zM710 358h1v145h-1zM711 163h1v328h-1zM712 372h1v152h-1zM713 246h1v281h-1zM714 246h1v263h-1zM715 383h1v144h-1zM716 267h1v262h-1zM717 384h1v172h-1zM718 375h1v171h-1zM719 273h1v243h-1zM720 385h1v84h-1zM721 367h1v155h-1zM722 286h1v158h-1zM723 380h1v136h-1zM724 359h1v115h-1zM725 266h1v232h-1zM726 380h1v193h-1zM727 364h1v246h-1zM728 183h1v295h-1zM729 372h1v114h-1zM730 365h1v119h-1zM731 250h1v248h-1zM732 371h1v103h-1zM733 360h1v141h-1zM734 253h1v261h-1zM735 368h1v164h-1zM736 361h1v113h-1zM737 283h1v229h-1zM738 380h1v147h-1zM739 349h1v151h-1zM740 277h1v235h-1zM741 384h1v87h-1zM742 324h1v175h-1zM743 277h1v229h-1zM744 375h1v129h-1zM745 249h1v315h-1zM746 300h1v208h-1zM747 386h1v109h-1zM748 229h1v283h-1zM749 377h1v67h-1zM750 341h1v188h-1zM751 240h1v227h-1zM752 384h1v138h-1zM753 370h1v130h-1zM754 278h1v172h-1zM755 389h1v117h-1zM756 381h1v127h-1zM757 277h1v203h-1zM758 389h1v128h-1zM759 378h1v126h-1zM760 271h1v251h-1zM761 389h1v143h-1zM762 371h1v98h-1zM763 236h1v303h-1zM764 389h1v129h-1zM765 372h1v88h-1zM766 185h1v293h-1zM767 389h1v123h-1zM768 372h1v160h-1zM769 237h1v317h-1zM770 382h1v139h-1zM771 334h1v192h-1zM772 265h1v184h-1zM773 384h1v113h-1zM774 305h1v252h-1zM775 278h1v245h-1zM776 383h1v70h-1zM777 275h1v220h-1zM778 383h1v108h-1zM779 326h1v143h-1zM780 256h1v232h-1zM781 380h1v156h-1zM782 341h1v168h-1zM783 175h1v344h-1zM784 365h1v145h-1zM785 358h1v151h-1zM786 235h1v275h-1zM787 365h1v122h-1zM788 357h1v151h-1zM789 271h1v198h-1zM790 368h1v109h-1zM791 357h1v105h-1zM792 275h1v291h-1zM793 368h1v100h-1zM794 361h1v127h-1zM795 282h1v254h-1zM796 376h1v72h-1zM797 356h1v119h-1zM798 275h1v192h-1zM799 383h1v131h-1zM800 350h1v168h-1zM801 186h1v334h-1zM802 389h1v100h-1zM803 331h1v187h-1zM804 235h1v265h-1zM805 375h1v97h-1zM806 268h1v250h-1zM807 246h1v266h-1zM808 380h1v124h-1zM809 290h1v241h-1zM810 379h1v114h-1zM811 368h1v128h-1zM812 279h1v200h-1zM813 386h1v150h-1zM814 341h1v131h-1zM815 268h1v191h-1zM816 382h1v64h-1zM817 356h1v121h-1zM818 227h1v245h-1zM819 379h1v67h-1zM820 365h1v160h-1zM821 253h1v261h-1zM822 379h1v87h-1zM823 360h1v168h-1zM824 240h1v260h-1zM825 368h1v80h-1zM826 362h1v141h-1zM827 285h1v195h-1zM828 371h1v124h-1zM829 358h1v161h-1zM830 280h1v243h-1zM831 376h1v81h-1zM832 345h1v96h-1zM833 266h1v185h-1zM834 372h1v75h-1zM835 327h1v191h-1zM836 247h1v215h-1zM837 378h1v210h-1zM838 212h1v313h-1zM839 312h1v244h-1zM840 359h1v108h-1zM841 249h1v253h-1zM842 340h1v175h-1zM843 359h1v145h-1zM844 258h1v276h-1zM845 347h1v174h-1zM846 361h1v106h-1zM847 286h1v223h-1zM848 387h1v75h-1zM849 365h1v134h-1zM850 275h1v192h-1zM851 381h1v127h-1zM852 360h1v160h-1zM853 240h1v272h-1zM854 369h1v195h-1zM855 359h1v114h-1zM856 186h1v345h-1zM857 364h1v111h-1zM858 359h1v153h-1zM859 258h1v237h-1zM860 367h1v114h-1zM861 347h1v249h-1zM862 291h1v196h-1zM863 371h1v91h-1zM864 352h1v106h-1zM865 280h1v191h-1zM866 377h1v166h-1zM867 319h1v175h-1zM868 275h1v252h-1zM869 380h1v121h-1zM870 260h1v244h-1zM871 379h1v147h-1zM872 328h1v150h-1zM873 184h1v329h-1zM874 347h1v170h-1zM875 362h1v193h-1zM876 244h1v219h-1zM877 379h1v124h-1zM878 365h1v111h-1zM879 248h1v268h-1zM880 389h1v149h-1zM881 370h1v111h-1zM882 281h1v178h-1zM883 388h1v136h-1zM884 367h1v86h-1zM885 277h1v201h-1zM886 374h1v105h-1zM887 361h1v161h-1zM888 261h1v251h-1zM889 371h1v113h-1zM890 360h1v94h-1zM891 207h1v270h-1zM892 367h1v86h-1zM893 361h1v147h-1zM894 235h1v301h-1zM895 380h1v139h-1zM896 326h1v178h-1zM897 235h1v285h-1zM898 380h1v90h-1zM899 295h1v218h-1zM900 299h1v198h-1zM901 386h1v147h-1zM902 284h1v193h-1zM903 372h1v147h-1zM904 368h1v120h-1zM905 271h1v203h-1zM906 380h1v100h-1zM907 369h1v108h-1zM908 283h1v167h-1zM909 378h1v112h-1zM910 364h1v172h-1zM911 253h1v196h-1zM912 373h1v111h-1zM913 364h1v175h-1zM914 290h1v236h-1zM915 378h1v106h-1zM916 359h1v110h-1zM917 261h1v275h-1zM918 374h1v101h-1zM919 368h1v97h-1zM920 285h1v200h-1zM921 382h1v174h-1zM922 366h1v119h-1zM923 283h1v201h-1zM924 374h1v152h-1zM925 353h1v156h-1zM926 240h1v263h-1zM927 374h1v74h-1zM928 340h1v170h-1zM929 229h1v253h-1zM930 379h1v130h-1zM931 248h1v277h-1zM932 262h1v235h-1zM933 374h1v136h-1zM934 270h1v197h-1zM935 346h1v184h-1zM936 356h1v191h-1zM937 290h1v211h-1zM938 379h1v105h-1zM939 364h1v168h-1zM940 276h1v204h-1zM941 371h1v143h-1zM942 358h1v132h-1zM943 272h1v186h-1zM944 374h1v158h-1zM945 358h1v135h-1zM946 212h1v307h-1zM947 378h1v130h-1zM948 362h1v148h-1zM949 254h1v255h-1zM950 373h1v132h-1zM951 358h1v127h-1zM952 258h1v249h-1zM953 377h1v149h-1zM954 368h1v198h-1zM955 283h1v230h-1zM956 379h1v78h-1zM957 341h1v128h-1zM958 281h1v237h-1zM959 386h1v207h-1zM960 303h1v138h-1zM961 264h1v225h-1zM962 379h1v117h-1zM963 228h1v229h-1zM964 322h1v183h-1zM965 363h1v107h-1zM966 257h1v211h-1zM967 377h1v106h-1zM968 364h1v155h-1zM969 236h1v240h-1zM970 371h1v97h-1zM971 364h1v103h-1zM972 296h1v224h-1zM973 360h1v142h-1zM974 363h1v84h-1zM975 287h1v230h-1zM976 378h1v148h-1zM977 360h1v133h-1zM978 266h1v286h-1zM979 369h1v78h-1zM980 358h1v114h-1zM981 276h1v214h-1zM982 369h1v157h-1zM983 361h1v156h-1zM984 231h1v236h-1z"/><path fill="#ff0000" d="M257 230h1v220h-1zM258 360h1v101h-1zM259 368h1v114h-1zM260 275h1v200h-1zM261 357h1v111h-1zM262 368h1v131h-1zM263 271h1v238h-1zM264 362h1v150h-1zM265 377h1v138h-1zM266 286h1v165h-1zM267 362h1v119h-1zM268 359h1v128h-1zM269 303h1v207h-1zM270 363h1v150h-1zM271 370h1v179h-1zM272 235h1v213h-1zM273 363h1v145h-1zM274 376h1v95h-1zM275 266h1v241h-1zM276 362h1v125h-1zM277 333h1v176h-1zM278 274h1v233h-1zM279 378h1v118h-1zM280 284h1v211h-1zM281 309h1v274h-1zM282 388h1v64h-1zM283 284h1v183h-1zM284 345h1v209h-1zM285 381h1v72h-1zM286 282h1v183h-1zM287 370h1v116h-1zM288 379h1v104h-1zM289 257h1v269h-1zM290 357h1v140h-1zM291 372h1v90h-1zM292 270h1v210h-1zM293 361h1v170h-1zM294 377h1v162h-1zM295 253h1v273h-1zM296 357h1v150h-1zM297 373h1v176h-1zM298 285h1v218h-1zM299 357h1v173h-1zM300 370h1v132h-1zM301 275h1v241h-1zM302 363h1v140h-1zM303 378h1v112h-1zM304 289h1v203h-1zM305 358h1v159h-1zM306 348h1v140h-1zM307 269h1v231h-1zM308 373h1v137h-1zM309 266h1v203h-1zM310 252h1v236h-1zM311 378h1v91h-1zM312 250h1v217h-1zM313 339h1v139h-1zM314 373h1v124h-1zM315 258h1v230h-1zM316 352h1v161h-1zM317 373h1v80h-1zM318 282h1v224h-1zM319 365h1v87h-1zM320 381h1v108h-1zM321 284h1v247h-1zM322 367h1v151h-1zM323 373h1v95h-1zM324 288h1v173h-1zM325 358h1v212h-1zM326 377h1v79h-1zM327 289h1v211h-1zM328 363h1v125h-1zM329 372h1v153h-1zM330 252h1v250h-1zM331 363h1v146h-1zM332 377h1v148h-1zM333 282h1v244h-1zM334 368h1v141h-1zM335 379h1v96h-1zM336 274h1v224h-1zM337 367h1v104h-1zM338 371h1v176h-1zM339 285h1v204h-1zM340 385h1v115h-1zM341 298h1v260h-1zM342 294h1v231h-1zM343 379h1v129h-1zM344 234h1v257h-1zM345 331h1v189h-1zM346 379h1v74h-1zM347 234h1v262h-1zM348 360h1v90h-1zM349 366h1v110h-1zM350 238h1v210h-1zM351 359h1v139h-1zM352 370h1v165h-1zM353 276h1v228h-1zM354 360h1v149h-1zM355 373h1v139h-1zM356 276h1v252h-1zM357 366h1v140h-1zM358 387h1v79h-1zM359 280h1v165h-1zM360 369h1v128h-1zM361 388h1v63h-1zM362 247h1v277h-1zM363 364h1v95h-1zM364 378h1v102h-1zM365 248h1v213h-1zM366 361h1v162h-1zM367 349h1v157h-1zM368 237h1v225h-1zM369 330h1v318h-1zM370 381h1v139h-1zM371 284h1v238h-1zM372 379h1v123h-1zM373 288h1v216h-1zM374 318h1v212h-1zM375 376h1v139h-1zM376 279h1v210h-1zM377 353h1v115h-1zM378 370h1v156h-1zM379 296h1v180h-1zM380 346h1v177h-1zM381 366h1v143h-1zM382 274h1v227h-1zM383 358h1v102h-1zM384 363h1v157h-1zM385 246h1v224h-1zM386 358h1v195h-1zM387 371h1v156h-1zM388 258h1v235h-1zM389 359h1v152h-1zM390 380h1v114h-1zM391 284h1v172h-1zM392 364h1v87h-1zM393 386h1v72h-1zM394 285h1v220h-1zM395 360h1v113h-1zM396 352h1v154h-1zM397 274h1v189h-1zM398 358h1v146h-1zM399 339h1v173h-1zM400 268h1v199h-1zM401 358h1v90h-1zM402 311h1v166h-1zM403 249h1v238h-1zM404 377h1v112h-1zM405 269h1v241h-1zM406 326h1v177h-1zM407 371h1v96h-1zM408 297h1v153h-1zM409 344h1v192h-1zM410 375h1v126h-1zM411 293h1v244h-1zM412 357h1v148h-1zM413 370h1v89h-1zM414 290h1v171h-1zM415 361h1v137h-1zM416 367h1v115h-1zM417 260h1v238h-1zM418 362h1v102h-1zM419 378h1v153h-1zM420 259h1v233h-1zM421 364h1v116h-1zM422 378h1v147h-1zM423 256h1v212h-1zM424 355h1v163h-1zM425 384h1v98h-1zM426 284h1v205h-1zM427 340h1v137h-1zM428 385h1v142h-1zM429 278h1v211h-1zM430 367h1v152h-1zM431 378h1v171h-1zM432 289h1v160h-1zM433 379h1v131h-1zM434 245h1v266h-1zM435 267h1v280h-1zM436 377h1v78h-1zM437 234h1v284h-1zM438 330h1v144h-1zM439 388h1v96h-1zM440 229h1v300h-1zM441 349h1v211h-1zM442 382h1v98h-1zM443 280h1v199h-1zM444 358h1v100h-1zM445 375h1v123h-1zM446 288h1v183h-1zM447 360h1v165h-1zM448 370h1v136h-1zM449 274h1v179h-1zM450 356h1v171h-1zM451 367h1v160h-1zM452 275h1v278h-1zM453 356h1v158h-1zM454 364h1v156h-1zM455 247h1v258h-1zM456 357h1v209h-1zM457 364h1v98h-1zM458 239h1v214h-1zM459 340h1v181h-1zM460 379h1v84h-1zM461 281h1v220h-1zM462 325h1v143h-1zM463 382h1v95h-1zM464 290h1v188h-1zM465 382h1v76h-1zM466 277h1v241h-1zM467 304h1v151h-1zM468 383h1v121h-1zM469 281h1v210h-1zM470 333h1v171h-1zM471 381h1v149h-1zM472 261h1v197h-1zM473 371h1v82h-1zM474 388h1v124h-1zM475 250h1v268h-1zM476 371h1v136h-1zM477 388h1v126h-1zM478 274h1v185h-1zM479 370h1v96h-1zM480 388h1v142h-1zM481 270h1v235h-1zM482 377h1v80h-1zM483 388h1v105h-1zM484 279h1v182h-1zM485 380h1v145h-1zM486 388h1v120h-1zM487 290h1v241h-1zM488 369h1v147h-1zM489 383h1v126h-1zM490 255h1v248h-1zM491 340h1v161h-1zM492 379h1v126h-1zM493 248h1v248h-1zM494 385h1v98h-1zM495 299h1v193h-1zM496 260h1v236h-1zM497 374h1v114h-1zM498 276h1v181h-1zM499 323h1v230h-1zM500 383h1v105h-1zM501 292h1v207h-1zM502 348h1v161h-1zM503 379h1v135h-1zM504 297h1v226h-1zM505 360h1v93h-1zM506 367h1v220h-1zM507 257h1v267h-1zM508 359h1v90h-1zM509 370h1v159h-1zM510 267h1v193h-1zM511 364h1v161h-1zM512 371h1v149h-1zM513 237h1v287h-1zM514 363h1v93h-1zM515 379h1v118h-1zM516 278h1v218h-1zM517 361h1v158h-1zM518 379h1v142h-1zM519 285h1v212h-1zM520 366h1v104h-1zM521 384h1v88h-1zM522 272h1v253h-1zM523 374h1v112h-1zM524 383h1v137h-1zM525 266h1v208h-1zM526 382h1v105h-1zM527 272h1v172h-1zM528 249h1v266h-1zM529 371h1v188h-1zM530 257h1v246h-1zM531 357h1v160h-1zM532 370h1v154h-1zM533 287h1v236h-1zM534 345h1v166h-1zM535 378h1v168h-1zM536 265h1v186h-1zM537 372h1v132h-1zM538 373h1v163h-1zM539 369h1v88h-1zM540 302h1v180h-1zM541 384h1v105h-1zM542 278h1v224h-1zM543 370h1v115h-1zM544 376h1v70h-1zM545 264h1v223h-1zM546 361h1v111h-1zM547 372h1v109h-1zM548 258h1v235h-1zM549 354h1v117h-1zM550 372h1v147h-1zM551 290h1v159h-1zM552 362h1v152h-1zM553 375h1v84h-1zM554 268h1v227h-1zM555 369h1v107h-1zM556 386h1v113h-1zM557 284h1v222h-1zM558 378h1v80h-1zM559 274h1v187h-1zM560 285h1v199h-1zM561 368h1v133h-1zM562 241h1v224h-1zM563 337h1v121h-1zM564 377h1v118h-1zM565 274h1v206h-1zM566 344h1v113h-1zM567 371h1v154h-1zM568 280h1v181h-1zM569 363h1v114h-1zM570 369h1v118h-1zM571 269h1v239h-1zM572 360h1v168h-1zM573 366h1v132h-1zM574 281h1v191h-1zM575 359h1v97h-1zM576 372h1v163h-1zM577 295h1v190h-1zM578 361h1v143h-1zM579 376h1v118h-1zM580 269h1v221h-1zM581 363h1v84h-1zM582 371h1v164h-1zM583 271h1v206h-1zM584 361h1v127h-1zM585 374h1v75h-1zM586 262h1v207h-1zM587 361h1v91h-1zM588 372h1v152h-1zM589 275h1v213h-1zM590 376h1v119h-1zM591 283h1v178h-1zM592 316h1v175h-1zM593 362h1v167h-1zM594 278h1v192h-1zM595 353h1v173h-1zM596 377h1v122h-1zM597 272h1v217h-1zM598 349h1v132h-1zM599 372h1v139h-1zM600 265h1v186h-1zM601 361h1v139h-1zM602 379h1v163h-1zM603 247h1v285h-1zM604 367h1v146h-1zM605 365h1v117h-1zM606 377h1v115h-1zM607 255h1v224h-1zM608 369h1v97h-1zM609 266h1v224h-1zM610 358h1v154h-1zM611 362h1v144h-1zM612 368h1v120h-1zM613 295h1v235h-1zM614 370h1v151h-1zM615 277h1v222h-1zM616 362h1v142h-1zM617 324h1v169h-1zM618 278h1v218h-1zM619 376h1v128h-1zM620 262h1v236h-1zM621 253h1v245h-1zM622 376h1v128h-1zM623 278h1v218h-1zM624 324h1v169h-1zM625 362h1v142h-1zM626 277h1v222h-1zM627 370h1v151h-1zM628 295h1v235h-1zM629 368h1v120h-1zM630 362h1v144h-1zM631 358h1v154h-1zM632 266h1v224h-1zM633 369h1v97h-1zM634 255h1v224h-1zM635 377h1v115h-1zM636 365h1v117h-1zM637 367h1v146h-1zM638 247h1v285h-1zM639 379h1v163h-1zM640 361h1v139h-1zM641 265h1v186h-1zM642 372h1v139h-1zM643 349h1v132h-1zM644 272h1v217h-1zM645 377h1v122h-1zM646 353h1v173h-1zM647 278h1v192h-1zM648 362h1v167h-1zM649 316h1v175h-1zM650 283h1v178h-1zM651 376h1v119h-1zM652 275h1v213h-1zM653 372h1v152h-1zM654 361h1v91h-1zM655 262h1v207h-1zM656 374h1v75h-1zM657 361h1v127h-1zM658 271h1v206h-1zM659 371h1v164h-1zM660 363h1v84h-1zM661 269h1v221h-1zM662 376h1v118h-1zM663 361h1v143h-1zM664 295h1v190h-1zM665 372h1v163h-1zM666 359h1v97h-1zM667 281h1v191h-1zM668 366h1v132h-1zM669 360h1v168h-1zM670 269h1v239h-1zM671 369h1v118h-1zM672 363h1v114h-1zM673 280h1v181h-1zM674 371h1v154h-1zM675 344h1v113h-1zM676 274h1v206h-1zM677 377h1v118h-1zM678 337h1v121h-1zM679 241h1v224h-1zM680 368h1v133h-1zM681 285h1v199h-1zM682 274h1v187h-1zM683 378h1v80h-1zM684 284h1v222h-1zM685 386h1v113h-1zM686 369h1v107h-1zM687 268h1v227h-1zM688 375h1v84h-1zM689 362h1v152h-1zM690 290h1v159h-1zM691 372h1v147h-1zM692 354h1v117h-1zM693 258h1v235h-1zM694 372h1v109h-1zM695 361h1v111h-1zM696 264h1v223h-1zM697 376h1v70h-1zM698 370h1v115h-1zM699 278h1v224h-1zM700 384h1v105h-1zM701 302h1v180h-1zM702 369h1v88h-1zM703 373h1v163h-1zM704 372h1v132h-1zM705 265h1v186h-1zM706 378h1v168h-1zM707 345h1v166h-1zM708 287h1v236h-1zM709 370h1v154h-1zM710 357h1v160h-1zM711 257h1v246h-1zM712 371h1v188h-1zM713 249h1v266h-1zM714 272h1v172h-1zM715 382h1v105h-1zM716 266h1v208h-1zM717 383h1v137h-1zM718 374h1v112h-1zM719 272h1v253h-1zM720 384h1v88h-1zM721 366h1v104h-1zM722 285h1v212h-1zM723 379h1v142h-1zM724 361h1v158h-1zM725 278h1v218h-1zM726 379h1v118h-1zM727 363h1v93h-1zM728 237h1v287h-1zM729 371h1v149h-1zM730 364h1v161h-1zM731 267h1v193h-1zM732 370h1v159h-1zM733 359h1v90h-1zM734 257h1v267h-1zM735 367h1v220h-1zM736 360h1v93h-1zM737 297h1v226h-1zM738 379h1v135h-1zM739 348h1v161h-1zM740 292h1v207h-1zM741 383h1v105h-1zM742 323h1v230h-1zM743 276h1v181h-1zM744 374h1v114h-1zM745 260h1v236h-1zM746 299h1v193h-1zM747 385h1v98h-1zM748 248h1v248h-1zM749 379h1v126h-1zM750 340h1v161h-1zM751 255h1v248h-1zM752 383h1v126h-1zM753 369h1v147h-1zM754 290h1v241h-1zM755 388h1v120h-1zM756 380h1v145h-1zM757 279h1v182h-1zM758 388h1v105h-1zM759 377h1v80h-1zM760 270h1v235h-1zM761 388h1v142h-1zM762 370h1v96h-1zM763 274h1v185h-1zM764 388h1v126h-1zM765 371h1v136h-1zM766 250h1v268h-1zM767 388h1v124h-1zM768 371h1v82h-1zM769 261h1v197h-1zM770 381h1v149h-1zM771 333h1v171h-1zM772 281h1v210h-1zM773 383h1v121h-1zM774 304h1v151h-1zM775 277h1v241h-1zM776 382h1v76h-1zM777 290h1v188h-1zM778 382h1v95h-1zM779 325h1v143h-1zM780 281h1v220h-1zM781 379h1v84h-1zM782 340h1v181h-1zM783 239h1v214h-1zM784 364h1v98h-1zM785 357h1v209h-1zM786 247h1v258h-1zM787 364h1v156h-1zM788 356h1v158h-1zM789 275h1v278h-1zM790 367h1v160h-1zM791 356h1v171h-1zM792 274h1v179h-1zM793 370h1v136h-1zM794 360h1v165h-1zM795 288h1v183h-1zM796 375h1v123h-1zM797 358h1v100h-1zM798 280h1v199h-1zM799 382h1v98h-1zM800 349h1v211h-1zM801 229h1v300h-1zM802 388h1v96h-1zM803 330h1v144h-1zM804 234h1v284h-1zM805 377h1v78h-1zM806 267h1v280h-1zM807 245h1v266h-1zM808 379h1v131h-1zM809 289h1v160h-1zM810 378h1v171h-1zM811 367h1v152h-1zM812 278h1v211h-1zM813 385h1v142h-1zM814 340h1v137h-1zM815 284h1v205h-1zM816 384h1v98h-1zM817 355h1v163h-1zM818 256h1v212h-1zM819 378h1v147h-1zM820 364h1v116h-1zM821 259h1v233h-1zM822 378h1v153h-1zM823 362h1v102h-1zM824 260h1v238h-1zM825 367h1v115h-1zM826 361h1v137h-1zM827 290h1v171h-1zM828 370h1v89h-1zM829 357h1v148h-1zM830 293h1v244h-1zM831 375h1v126h-1zM832 344h1v192h-1zM833 297h1v153h-1zM834 371h1v96h-1zM835 326h1v177h-1zM836 269h1v241h-1zM837 377h1v112h-1zM838 249h1v238h-1zM839 311h1v166h-1zM840 358h1v90h-1zM841 268h1v199h-1zM842 339h1v173h-1zM843 358h1v146h-1zM844 274h1v189h-1zM845 352h1v154h-1zM846 360h1v113h-1zM847 285h1v220h-1zM848 386h1v72h-1zM849 364h1v87h-1zM850 284h1v172h-1zM851 380h1v114h-1zM852 359h1v152h-1zM853 258h1v235h-1zM854 371h1v156h-1zM855 358h1v195h-1zM856 246h1v224h-1zM857 363h1v157h-1zM858 358h1v102h-1zM859 274h1v227h-1zM860 366h1v143h-1zM861 346h1v177h-1zM862 296h1v180h-1zM863 370h1v156h-1zM864 353h1v115h-1zM865 279h1v210h-1zM866 376h1v139h-1zM867 318h1v212h-1zM868 288h1v216h-1zM869 379h1v123h-1zM870 284h1v238h-1zM871 381h1v139h-1zM872 330h1v318h-1zM873 237h1v225h-1zM874 349h1v157h-1zM875 361h1v162h-1zM876 248h1v213h-1zM877 378h1v102h-1zM878 364h1v95h-1zM879 247h1v277h-1zM880 388h1v63h-1zM881 369h1v128h-1zM882 280h1v165h-1zM883 387h1v79h-1zM884 366h1v140h-1zM885 276h1v252h-1zM886 373h1v139h-1zM887 360h1v149h-1zM888 276h1v228h-1zM889 370h1v165h-1zM890 359h1v139h-1zM891 238h1v210h-1zM892 366h1v110h-1zM893 360h1v90h-1zM894 234h1v262h-1zM895 379h1v74h-1zM896 331h1v189h-1zM897 234h1v257h-1zM898 379h1v129h-1zM899 294h1v231h-1zM900 298h1v260h-1zM901 385h1v115h-1zM902 285h1v204h-1zM903 371h1v176h-1zM904 367h1v104h-1zM905 274h1v224h-1zM906 379h1v96h-1zM907 368h1v141h-1zM908 282h1v244h-1zM909 377h1v148h-1zM910 363h1v146h-1zM911 252h1v250h-1zM912 372h1v153h-1zM913 363h1v125h-1zM914 289h1v211h-1zM915 377h1v79h-1zM916 358h1v212h-1zM917 288h1v173h-1zM918 373h1v95h-1zM919 367h1v151h-1zM920 284h1v247h-1zM921 381h1v108h-1zM922 365h1v87h-1zM923 282h1v224h-1zM924 373h1v80h-1zM925 352h1v161h-1zM926 258h1v230h-1zM927 373h1v124h-1zM928 339h1v139h-1zM929 250h1v217h-1zM930 378h1v91h-1zM931 252h1v236h-1zM932 266h1v203h-1zM933 373h1v137h-1zM934 269h1v231h-1zM935 348h1v140h-1zM936 358h1v159h-1zM937 289h1v203h-1zM938 378h1v112h-1zM939 363h1v140h-1zM940 275h1v241h-1zM941 370h1v132h-1zM942 357h1v173h-1zM943 285h1v218h-1zM944 373h1v176h-1zM945 357h1v150h-1zM946 253h1v273h-1zM947 377h1v162h-1zM948 361h1v170h-1zM949 270h1v210h-1zM950 372h1v90h-1zM951 357h1v140h-1zM952 257h1v269h-1zM953 379h1v104h-1zM954 370h1v116h-1zM955 282h1v183h-1zM956 381h1v72h-1zM957 345h1v209h-1zM958 284h1v183h-1zM959 388h1v64h-1zM960 309h1v274h-1zM961 284h1v211h-1zM962 378h1v118h-1zM963 274h1v233h-1zM964 333h1v176h-1zM965 362h1v125h-1zM966 266h1v241h-1zM967 376h1v95h-1zM968 363h1v145h-1zM969 235h1v213h-1zM970 370h1v179h-1zM971 363h1v150h-1zM972 303h1v207h-1zM973 359h1v128h-1zM974 362h1v119h-1zM975 286h1v165h-1zM976 377h1v138h-1zM977 362h1v150h-1zM978 271h1v238h-1zM979 368h1v131h-1zM980 357h1v111h-1zM981 275h1v200h-1zM982 368h1v114h-1zM983 360h1v101h-1zM984 230h1v220h-1z"/><path fill="#000" d="M146 798h1v1h-1zM145 799h1v1h-1zM147 799h1v1h-1zM144 800h1v1h-1zM148 800h1v1h-1zM144 801h1v1h-1zM148 801h1v1h-1zM144 802h1v1h-1zM148 802h1v1h-1zM144 803h1v1h-1zM148 803h1v1h-1zM144 804h1v1h-1zM148 804h1v1h-1zM145 805h1v1h-1zM147 805h1v1h-1zM146 806h1v1h-1zM139 716h1v1h-1zM140 716h1v1h-1zM141 716h1v1h-1zM138 717h1v1h-1zM142 717h1v1h-1zM138 718h1v1h-1zM142 718h1v1h-1zM142 719h1v1h-1zM141 720h1v1h-1zM140 721h1v1h-1zM139 722h1v1h-1zM138 723h1v1h-1zM138 724h1v1h-1zM139 724h1v1h-1zM140 724h1v1h-1zM141 724h1v1h-1zM142 724h1v1h-1zM146 716h1v1h-1zM145 717h1v1h-1zM147 717h1v1h-1zM144 718h1v1h-1zM148 718h1v1h-1zM144 719h1v1h-1zM148 719h1v1h-1zM144 720h1v1h-1zM148 720h1v1h-1zM144 721h1v1h-1zM148 721h1v1h-1zM144 722h1v1h-1zM148 722h1v1h-1zM145 723h1v1h-1zM147 723h1v1h-1zM146 724h1v1h-1zM141 634h1v1h-1zM141 635h1v1h-1zM140 636h1v1h-1zM141 636h1v1h-1zM139 637h1v1h-1zM141 637h1v1h-1zM139 638h1v1h-1zM141 638h1v1h-1zM138 639h1v1h-1zM141 639h1v1h-1zM138 640h1v1h-1zM139 640h1v1h-1zM140 640h1v1h-1zM141 640h1v1h-1zM142 640h1v1h-1zM141 641h1v1h-1zM141 642h1v1h-1zM146 634h1v1h-1zM145 635h1v1h-1zM147 635h1v1h-1zM144 636h1v1h-1zM148 636h1v1h-1zM144 637h1v1h-1zM148 637h1v1h-1zM144 638h1v1h-1zM148 638h1v1h-1zM144 639h1v1h-1zM148 639h1v1h-1zM144 640h1v1h-1zM148 640h1v1h-1zM145 641h1v1h-1zM147 641h1v1h-1zM146 642h1v1h-1zM139 553h1v1h-1zM140 553h1v1h-1zM141 553h1v1h-1zM138 554h1v1h-1zM142 554h1v1h-1zM138 555h1v1h-1zM138 556h1v1h-1zM138 557h1v1h-1zM139 557h1v1h-1zM140 557h1v1h-1zM141 557h1v1h-1zM138 558h1v1h-1zM142 558h1v1h-1zM138 559h1v1h-1zM142 559h1v1h-1zM138 560h1v1h-1zM142 560h1v1h-1zM139 561h1v1h-1zM140 561h1v1h-1zM141 561h1v1h-1zM146 553h1v1h-1zM145 554h1v1h-1zM147 554h1v1h-1zM144 555h1v1h-1zM148 555h1v1h-1zM144 556h1v1h-1zM148 556h1v1h-1zM144 557h1v1h-1zM148 557h1v1h-1zM144 558h1v1h-1zM148 558h1v1h-1zM144 559h1v1h-1zM148 559h1v1h-1zM145 560h1v1h-1zM147 560h1v1h-1zM146 561h1v1h-1zM139 471h1v1h-1zM140 471h1v1h-1zM141 471h1v1h-1zM138 472h1v1h-1zM142 472h1v1h-1zM138 473h1v1h-1zM142 473h1v1h-1zM138 474h1v1h-1zM142 474h1v1h-1zM139 475h1v1h-1zM140 475h1v1h-1zM141 475h1v1h-1zM138 476h1v1h-1zM142 476h1v1h-1zM138 477h1v1h-1zM142 477h1v1h-1zM138 478h1v1h-1zM142 478h1v1h-1zM139 479h1v1h-1zM140 479h1v1h-1zM141 479h1v1h-1zM146 471h1v1h-1zM145 472h1v1h-1zM147 472h1v1h-1zM144 473h1v1h-1zM148 473h1v1h-1zM144 474h1v1h-1zM148 474h1v1h-1zM144 475h1v1h-1zM148 475h1v1h-1zM144 476h1v1h-1zM148 476h1v1h-1zM144 477h1v1h-1zM148 477h1v1h-1zM145 478h1v1h-1zM147 478h1v1h-1zM146 479h1v1h-1zM134 390h1v1h-1zM133 391h1v1h-1zM134 391h1v1h-1zM132 392h1v1h-1zM134 392h1v1h-1zM134 393h1v1h-1zM134 394h1v1h-1zM134 395h1v1h-1zM134 396h1v1h-1zM134 397h1v1h-1zM132 398h1v1h-1zM133 398h1v1h-1zM134 398h1v1h-1zM135 398h1v1h-1zM136 398h1v1h-1zM140 390h1v1h-1zM139 391h1v1h-1zM141 391h1v1h-1zM138 392h1v1h-1zM142 392h1v1h-1zM138 393h1v1h-1zM142 393h1v1h-1zM138 394h1v1h-1zM142 394h1v1h-1zM138 395h1v1h-1zM142 395h1v1h-1zM138 396h1v1h-1zM142 396h1v1h-1zM139 397h1v1h-1zM141 397h1v1h-1zM140 398h1v1h-1zM146 390h1v1h-1zM145 391h1v1h-1zM147 391h1v1h-1zM144 392h1v1h-1zM148 392h1v1h-1zM144 393h1v1h-1zM148 393h1v1h-1zM144 394h1v1h-1zM148 394h1v1h-1zM144 395h1v1h-1zM148 395h1v1h-1zM144 396h1v1h-1zM148 396h1v1h-1zM145 397h1v1h-1zM147 397h1v1h-1zM146 398h1v1h-1zM134 308h1v1h-1zM133 309h1v1h-1zM134 309h1v1h-1zM132 310h1v1h-1zM134 310h1v1h-1zM134 311h1v1h-1zM134 312h1v1h-1zM134 313h1v1h-1zM134 314h1v1h-1zM134 315h1v1h-1zM132 316h1v1h-1zM133 316h1v1h-1zM134 316h1v1h-1zM135 316h1v1h-1zM136 316h1v1h-1zM139 308h1v1h-1zM140 308h1v1h-1zM141 308h1v1h-1zM138 309h1v1h-1zM142 309h1v1h-1zM138 310h1v1h-1zM142 310h1v1h-1zM142 311h1v1h-1zM141 312h1v1h-1zM140 313h1v1h-1zM139 314h1v1h-1zM138 315h1v1h-1zM138 316h1v1h-1zM139 316h1v1h-1zM140 316h1v1h-1zM141 316h1v1h-1zM142 316h1v1h-1zM146 308h1v1h-1zM145 309h1v1h-1zM147 309h1v1h-1zM144 310h1v1h-1zM148 310h1v1h-1zM144 311h1v1h-1zM148 311h1v1h-1zM144 312h1v1h-1zM148 312h1v1h-1zM144 313h1v1h-1zM148 313h1v1h-1zM144 314h1v1h-1zM148 314h1v1h-1zM145 315h1v1h-1zM147 315h1v1h-1zM146 316h1v1h-1zM134 227h1v1h-1zM133 228h1v1h-1zM134 228h1v1h-1zM132 229h1v1h-1zM134 229h1v1h-1zM134 230h1v1h-1zM134 231h1v1h-1zM134 232h1v1h-1zM134 233h1v1h-1zM134 234h1v1h-1zM132 235h1v1h-1zM133 235h1v1h-1zM134 235h1v1h-1zM135 235h1v1h-1zM136 235h1v1h-1zM141 227h1v1h-1zM141 228h1v1h-1zM140 229h1v1h-1zM141 229h1v1h-1zM139 230h1v1h-1zM141 230h1v1h-1zM139 231h1v1h-1zM141 231h1v1h-1zM138 232h1v1h-1zM141 232h1v1h-1zM138 233h1v1h-1zM139 233h1v1h-1zM140 233h1v1h-1zM141 233h1v1h-1zM142 233h1v1h-1zM141 234h1v1h-1zM141 235h1v1h-1zM146 227h1v1h-1zM145 228h1v1h-1zM147 228h1v1h-1zM144 229h1v1h-1zM148 229h1v1h-1zM144 230h1v1h-1zM148 230h1v1h-1zM144 231h1v1h-1zM148 231h1v1h-1zM144 232h1v1h-1zM148 232h1v1h-1zM144 233h1v1h-1zM148 233h1v1h-1zM145 234h1v1h-1zM147 234h1v1h-1zM146 235h1v1h-1zM134 145h1v1h-1zM133 146h1v1h-1zM134 146h1v1h-1zM132 147h1v1h-1zM134 147h1v1h-1zM134 148h1v1h-1zM134 149h1v1h-1zM134 150h1v1h-1zM134 151h1v1h-1zM134 152h1v1h-1zM132 153h1v1h-1zM133 153h1v1h-1zM134 153h1v1h-1zM135 153h1v1h-1zM136 153h1v1h-1zM139 145h1v1h-1zM140 145h1v1h-1zM141 145h1v1h-1zM138 146h1v1h-1zM142 146h1v1h-1zM138 147h1v1h-1zM138 148h1v1h-1zM138 149h1v1h-1zM139 149h1v1h-1zM140 149h1v1h-1zM141 149h1v1h-1zM138 150h1v1h-1zM142 150h1v1h-1zM138 151h1v1h-1zM142 151h1v1h-1zM138 152h1v1h-1zM142 152h1v1h-1zM139 153h1v1h-1zM140 153h1v1h-1zM141 153h1v1h-1zM146 145h1v1h-1zM145 146h1v1h-1zM147 146h1v1h-1zM144 147h1v1h-1zM148 147h1v1h-1zM144 148h1v1h-1zM148 148h1v1h-1zM144 149h1v1h-1zM148 149h1v1h-1zM144 150h1v1h-1zM148 150h1v1h-1zM144 151h1v1h-1zM148 151h1v1h-1zM145 152h1v1h-1zM147 152h1v1h-1zM146 153h1v1h-1zM134 64h1v1h-1zM133 65h1v1h-1zM134 65h1v1h-1zM132 66h1v1h-1zM134 66h1v1h-1zM134 67h1v1h-1zM134 68h1v1h-1zM134 69h1v1h-1zM134 70h1v1h-1zM134 71h1v1h-1zM132 72h1v1h-1zM133 72h1v1h-1zM134 72h1v1h-1zM135 72h1v1h-1zM136 72h1v1h-1zM139 64h1v1h-1zM140 64h1v1h-1zM141 64h1v1h-1zM138 65h1v1h-1zM142 65h1v1h-1zM138 66h1v1h-1zM142 66h1v1h-1zM138 67h1v1h-1zM142 67h1v1h-1zM139 68h1v1h-1zM140 68h1v1h-1zM141 68h1v1h-1zM138 69h1v1h-1zM142 69h1v1h-1zM138 70h1v1h-1zM142 70h1v1h-1zM138 71h1v1h-1zM142 71h1v1h-1zM139 72h1v1h-1zM140 72h1v1h-1zM141 72h1v1h-1zM146 64h1v1h-1zM145 65h1v1h-1zM147 65h1v1h-1zM144 66h1v1h-1zM148 66h1v1h-1zM144 67h1v1h-1zM148 67h1v1h-1zM144 68h1v1h-1zM148 68h1v1h-1zM144 69h1v1h-1zM148 69h1v1h-1zM144 70h1v1h-1zM148 70h1v1h-1zM145 71h1v1h-1zM147 71h1v1h-1zM146 72h1v1h-1zM144 815h1v1h-1zM145 815h1v1h-1zM146 815h1v1h-1zM147 815h1v1h-1zM148 815h1v1h-1zM151 811h1v1h-1zM152 811h1v1h-1zM153 811h1v1h-1zM150 812h1v1h-1zM154 812h1v1h-1zM150 813h1v1h-1zM154 813h1v1h-1zM150 814h1v1h-1zM154 814h1v1h-1zM151 815h1v1h-1zM152 815h1v1h-1zM153 815h1v1h-1zM150 816h1v1h-1zM154 816h1v1h-1zM150 817h1v1h-1zM154 817h1v1h-1zM150 818h1v1h-1zM154 818h1v1h-1zM151 819h1v1h-1zM152 819h1v1h-1zM153 819h1v1h-1zM158 811h1v1h-1zM157 812h1v1h-1zM159 812h1v1h-1zM156 813h1v1h-1zM160 813h1v1h-1zM156 814h1v1h-1zM160 814h1v1h-1zM156 815h1v1h-1zM160 815h1v1h-1zM156 816h1v1h-1zM160 816h1v1h-1zM156 817h1v1h-1zM160 817h1v1h-1zM157 818h1v1h-1zM159 818h1v1h-1zM158 819h1v1h-1zM260 815h1v1h-1zM261 815h1v1h-1zM262 815h1v1h-1zM263 815h1v1h-1zM264 815h1v1h-1zM267 811h1v1h-1zM268 811h1v1h-1zM269 811h1v1h-1zM266 812h1v1h-1zM270 812h1v1h-1zM266 813h1v1h-1zM266 814h1v1h-1zM266 815h1v1h-1zM267 815h1v1h-1zM268 815h1v1h-1zM269 815h1v1h-1zM266 816h1v1h-1zM270 816h1v1h-1zM266 817h1v1h-1zM270 817h1v1h-1zM266 818h1v1h-1zM270 818h1v1h-1zM267 819h1v1h-1zM268 819h1v1h-1zM269 819h1v1h-1zM274 811h1v1h-1zM273 812h1v1h-1zM275 812h1v1h-1zM272 813h1v1h-1zM276 813h1v1h-1zM272 814h1v1h-1zM276 814h1v1h-1zM272 815h1v1h-1zM276 815h1v1h-1zM272 816h1v1h-1zM276 816h1v1h-1zM272 817h1v1h-1zM276 817h1v1h-1zM273 818h1v1h-1zM275 818h1v1h-1zM274 819h1v1h-1zM376 815h1v1h-1zM377 815h1v1h-1zM378 815h1v1h-1zM379 815h1v1h-1zM380 815h1v1h-1zM385 811h1v1h-1zM385 812h1v1h-1zM384 813h1v1h-1zM385 813h1v1h-1zM383 814h1v1h-1zM385 814h1v1h-1zM383 815h1v1h-1zM385 815h1v1h-1zM382 816h1v1h-1zM385 816h1v1h-1zM382 817h1v1h-1zM383 817h1v1h-1zM384 817h1v1h-1zM385 817h1v1h-1zM386 817h1v1h-1zM385 818h1v1h-1zM385 819h1v1h-1zM390 811h1v1h-1zM389 812h1v1h-1zM391 812h1v1h-1zM388 813h1v1h-1zM392 813h1v1h-1zM388 814h1v1h-1zM392 814h1v1h-1zM388 815h1v1h-1zM392 815h1v1h-1zM388 816h1v1h-1zM392 816h1v1h-1zM388 817h1v1h-1zM392 817h1v1h-1zM389 818h1v1h-1zM391 818h1v1h-1zM390 819h1v1h-1zM492 815h1v1h-1zM493 815h1v1h-1zM494 815h1v1h-1zM495 815h1v1h-1zM496 815h1v1h-1zM499 811h1v1h-1zM500 811h1v1h-1zM501 811h1v1h-1zM498 812h1v1h-1zM502 812h1v1h-1zM498 813h1v1h-1zM502 813h1v1h-1zM502 814h1v1h-1zM501 815h1v1h-1zM500 816h1v1h-1zM499 817h1v1h-1zM498 818h1v1h-1zM498 819h1v1h-1zM499 819h1v1h-1zM500 819h1v1h-1zM501 819h1v1h-1zM502 819h1v1h-1zM506 811h1v1h-1zM505 812h1v1h-1zM507 812h1v1h-1zM504 813h1v1h-1zM508 813h1v1h-1zM504 814h1v1h-1zM508 814h1v1h-1zM504 815h1v1h-1zM508 815h1v1h-1zM504 816h1v1h-1zM508 816h1v1h-1zM504 817h1v1h-1zM508 817h1v1h-1zM505 818h1v1h-1zM507 818h1v1h-1zM506 819h1v1h-1zM620 811h1v1h-1zM619 812h1v1h-1zM621 812h1v1h-1zM618 813h1v1h-1zM622 813h1v1h-1zM618 814h1v1h-1zM622 814h1v1h-1zM618 815h1v1h-1zM622 815h1v1h-1zM618 816h1v1h-1zM622 816h1v1h-1zM618 817h1v1h-1zM622 817h1v1h-1zM619 818h1v1h-1zM621 818h1v1h-1zM620 819h1v1h-1zM732 811h1v1h-1zM733 811h1v1h-1zM734 811h1v1h-1zM731 812h1v1h-1zM735 812h1v1h-1zM731 813h1v1h-1zM735 813h1v1h-1zM735 814h1v1h-1zM734 815h1v1h-1zM733 816h1v1h-1zM732 817h1v1h-1zM731 818h1v1h-1zM731 819h1v1h-1zM732 819h1v1h-1zM733 819h1v1h-1zM734 819h1v1h-1zM735 819h1v1h-1zM739 811h1v1h-1zM738 812h1v1h-1zM740 812h1v1h-1zM737 813h1v1h-1zM741 813h1v1h-1zM737 814h1v1h-1zM741 814h1v1h-1zM737 815h1v1h-1zM741 815h1v1h-1zM737 816h1v1h-1zM741 816h1v1h-1zM737 817h1v1h-1zM741 817h1v1h-1zM738 818h1v1h-1zM740 818h1v1h-1zM739 819h1v1h-1zM850 811h1v1h-1zM850 812h1v1h-1zM849 813h1v1h-1zM850 813h1v1h-1zM848 814h1v1h-1zM850 814h1v1h-1zM848 815h1v1h-1zM850 815h1v1h-1zM847 816h1v1h-1zM850 816h1v1h-1zM847 817h1v1h-1zM848 817h1v1h-1zM849 817h1v1h-1zM850 817h1v1h-1zM851 817h1v1h-1zM850 818h1v1h-1zM850 819h1v1h-1zM855 811h1v1h-1zM854 812h1v1h-1zM856 812h1v1h-1zM853 813h1v1h-1zM857 813h1v1h-1zM853 814h1v1h-1zM857 814h1v1h-1zM853 815h1v1h-1zM857 815h1v1h-1zM853 816h1v1h-1zM857 816h1v1h-1zM853 817h1v1h-1zM857 817h1v1h-1zM854 818h1v1h-1zM856 818h1v1h-1zM855 819h1v1h-1zM964 811h1v1h-1zM965 811h1v1h-1zM966 811h1v1h-1zM963 812h1v1h-1zM967 812h1v1h-1zM963 813h1v1h-1zM963 814h1v1h-1zM963 815h1v1h-1zM964 815h1v1h-1zM965 815h1v1h-1zM966 815h1v1h-1zM963 816h1v1h-1zM967 816h1v1h-1zM963 817h1v1h-1zM967 817h1v1h-1zM963 818h1v1h-1zM967 818h1v1h-1zM964 819h1v1h-1zM965 819h1v1h-1zM966 819h1v1h-1zM971 811h1v1h-1zM970 812h1v1h-1zM972 812h1v1h-1zM969 813h1v1h-1zM973 813h1v1h-1zM969 814h1v1h-1zM973 814h1v1h-1zM969 815h1v1h-1zM973 815h1v1h-1zM969 816h1v1h-1zM973 816h1v1h-1zM969 817h1v1h-1zM973 817h1v1h-1zM970 818h1v1h-1zM972 818h1v1h-1zM971 819h1v1h-1zM1081 811h1v1h-1zM1082 811h1v1h-1zM1083 811h1v1h-1zM1080 812h1v1h-1zM1084 812h1v1h-1zM1080 813h1v1h-1zM1084 813h1v1h-1zM1080 814h1v1h-1zM1084 814h1v1h-1zM1081 815h1v1h-1zM1082 815h1v1h-1zM1083 815h1v1h-1zM1080 816h1v1h-1zM1084 816h1v1h-1zM1080 817h1v1h-1zM1084 817h1v1h-1zM1080 818h1v1h-1zM1084 818h1v1h-1zM1081 819h1v1h-1zM1082 819h1v1h-1zM1083 819h1v1h-1zM1088 811h1v1h-1zM1087 812h1v1h-1zM1089 812h1v1h-1zM1086 813h1v1h-1zM1090 813h1v1h-1zM1086 814h1v1h-1zM1090 814h1v1h-1zM1086 815h1v1h-1zM1090 815h1v1h-1zM1086 816h1v1h-1zM1090 816h1v1h-1zM1086 817h1v1h-1zM1090 817h1v1h-1zM1087 818h1v1h-1zM1089 818h1v1h-1zM1088 819h1v1h-1zM604 830h1v1h-1zM605 830h1v1h-1zM603 831h1v1h-1zM606 831h1v1h-1zM603 832h1v1h-1zM603 833h1v1h-1zM602 834h1v1h-1zM603 834h1v1h-1zM604 834h1v1h-1zM605 834h1v1h-1zM603 835h1v1h-1zM603 836h1v1h-1zM603 837h1v1h-1zM603 838h1v1h-1zM610 837h1v1h-1zM611 837h1v1h-1zM610 838h1v1h-1zM609 839h1v1h-1zM620 830h1v1h-1zM624 830h1v1h-1zM620 831h1v1h-1zM624 831h1v1h-1zM620 832h1v1h-1zM621 832h1v1h-1zM623 832h1v1h-1zM624 832h1v1h-1zM620 833h1v1h-1zM622 833h1v1h-1zM624 833h1v1h-1zM620 834h1v1h-1zM622 834h1v1h-1zM624 834h1v1h-1zM620 835h1v1h-1zM624 835h1v1h-1zM620 836h1v1h-1zM624 836h1v1h-1zM620 837h1v1h-1zM624 837h1v1h-1zM620 838h1v1h-1zM624 838h1v1h-1zM626 830h1v1h-1zM630 830h1v1h-1zM626 831h1v1h-1zM630 831h1v1h-1zM626 832h1v1h-1zM630 832h1v1h-1zM626 833h1v1h-1zM630 833h1v1h-1zM626 834h1v1h-1zM627 834h1v1h-1zM628 834h1v1h-1zM629 834h1v1h-1zM630 834h1v1h-1zM626 835h1v1h-1zM630 835h1v1h-1zM626 836h1v1h-1zM630 836h1v1h-1zM626 837h1v1h-1zM630 837h1v1h-1zM626 838h1v1h-1zM630 838h1v1h-1zM632 833h1v1h-1zM633 833h1v1h-1zM634 833h1v1h-1zM635 833h1v1h-1zM636 833h1v1h-1zM635 834h1v1h-1zM634 835h1v1h-1zM633 836h1v1h-1zM632 837h1v1h-1zM632 838h1v1h-1zM633 838h1v1h-1zM634 838h1v1h-1zM635 838h1v1h-1zM636 838h1v1h-1zM112 449h1v1h-1zM112 448h1v1h-1zM112 447h1v1h-1zM113 450h1v1h-1zM113 446h1v1h-1zM114 450h1v1h-1zM115 450h1v1h-1zM116 449h1v1h-1zM116 448h1v1h-1zM116 447h1v1h-1zM117 446h1v1h-1zM118 446h1v1h-1zM119 450h1v1h-1zM119 446h1v1h-1zM120 449h1v1h-1zM120 448h1v1h-1zM120 447h1v1h-1zM119 441h1v2h-1zM120 442h1v1h-1zM121 443h1v1h-1zM112 428h1v1h-1zM113 428h1v1h-1zM114 428h1v1h-1zM115 431h1v1h-1zM115 430h1v1h-1zM115 429h1v1h-1zM115 428h1v1h-1zM116 432h1v1h-1zM116 428h1v1h-1zM117 432h1v1h-1zM117 428h1v1h-1zM118 432h1v1h-1zM118 428h1v1h-1zM119 432h1v1h-1zM119 428h1v1h-1zM120 431h1v1h-1zM120 430h1v1h-1zM120 429h1v1h-1zM120 428h1v1h-1zM113 422h3v1h-3zM117 422h3v1h-3zM112 423h1v2h-1zM116 423h1v2h-1zM120 423h1v2h-1zM112 425h9v1h-9zM112 426h1v1h-1zM120 426h1v1h-1zM156 68h931v1h-931zM156 802h931v1h-931zM156 68h1v735h-1zM1086 68h1v735h-1zM156 792h1v11h-1zM156 68h1v10h-1zM272 792h1v11h-1zM272 68h1v10h-1zM388 792h1v11h-1zM388 68h1v10h-1zM504 792h1v11h-1zM504 68h1v10h-1zM621 792h1v11h-1zM621 68h1v10h-1zM737 792h1v11h-1zM737 68h1v10h-1zM853 792h1v11h-1zM853 68h1v10h-1zM969 792h1v11h-1zM969 68h1v10h-1zM1086 792h1v11h-1zM1086 68h1v10h-1zM156 802h10v1h-10zM1076 802h11v1h-11zM156 720h10v1h-10zM1076 720h11v1h-11zM156 638h10v1h-10zM1076 638h11v1h-11zM156 557h10v1h-10zM1076 557h11v1h-11zM156 475h10v1h-10zM1076 475h11v1h-11zM156 394h10v1h-10zM1076 394h11v1h-11zM156 312h10v1h-10zM1076 312h11v1h-11zM156 231h10v1h-10zM1076 231h11v1h-11zM156 149h10v1h-10zM1076 149h11v1h-11zM156 68h10v1h-10zM1076 68h11v1h-11z"/></svg></body></html>
